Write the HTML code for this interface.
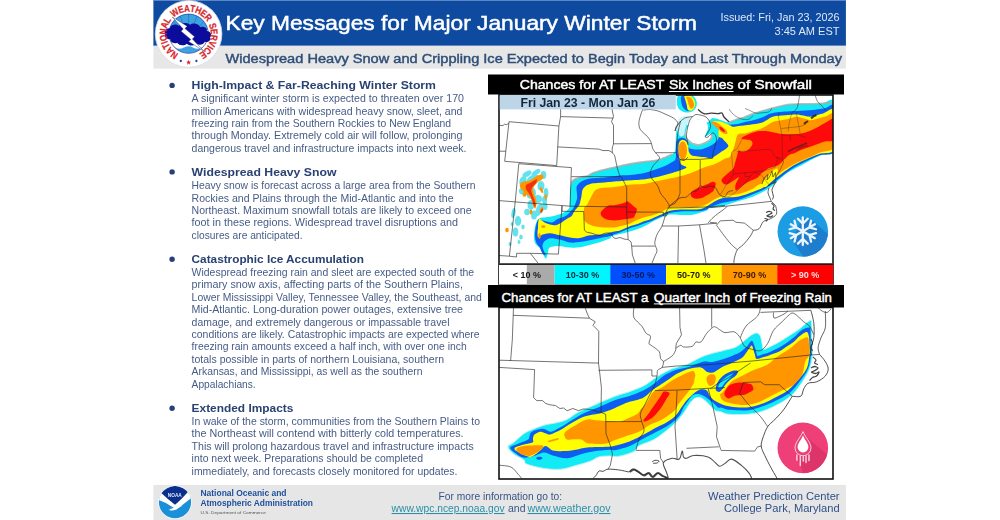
<!DOCTYPE html>
<html><head><meta charset="utf-8"><title>Key Messages</title>
<style>html,body{margin:0;padding:0;background:#fff;width:1000px;height:520px;overflow:hidden}svg{display:block;position:absolute;left:0;top:0;filter:blur(0.45px)}text{font-family:"Liberation Sans",sans-serif}.b{font-weight:bold}</style></head><body>
<svg width="1000" height="520" viewBox="0 0 1000 520">
<rect x="153.4" y="0" width="692.5" height="46" fill="#0d4aa0"/>
<rect x="153.4" y="0" width="692.5" height="1" fill="#5f86c4"/>
<rect x="153.4" y="45.6" width="692.5" height="23" fill="#e7e7e8"/>
<g>
<circle cx="188.6" cy="33.9" r="33.3" fill="#fff" stroke="#d9dde6" stroke-width="0.8"/>
<defs><clipPath id="nw"><circle cx="188.6" cy="33.699999999999996" r="19.6"/></clipPath></defs>
<circle cx="188.6" cy="33.699999999999996" r="19.6" fill="#fff"/>
<g clip-path="url(#nw)">
<rect x="165" y="10" width="48" height="20" fill="#3ea2e2"/>
<line x1="188.6" y1="37.9" x2="171.7" y2="19.8" stroke="#1d5fae" stroke-width="0.5"/>
<line x1="188.6" y1="37.9" x2="179.3" y2="14.0" stroke="#1d5fae" stroke-width="0.5"/>
<line x1="188.6" y1="37.9" x2="188.6" y2="11.9" stroke="#1d5fae" stroke-width="0.5"/>
<line x1="188.6" y1="37.9" x2="197.9" y2="14.0" stroke="#1d5fae" stroke-width="0.5"/>
<line x1="188.6" y1="37.9" x2="205.5" y2="19.8" stroke="#1d5fae" stroke-width="0.5"/>
<path d="M166 47.5 q5 -2.5 9 0 t9 0 t9 0 t9 0 t9 0 V56 H166Z" fill="#3ea2e2"/>
<circle cx="180.8" cy="61.0" r="1.15" fill="#2a3f9c"/>
<circle cx="196.4" cy="61.0" r="1.15" fill="#2a3f9c"/>
<polygon points="188.60,59.80 189.25,61.61 191.17,61.67 189.65,62.84 190.19,64.68 188.60,63.60 187.01,64.68 187.55,62.84 186.03,61.67 187.95,61.61" fill="#d9262c"/>
</g>
<circle cx="188.6" cy="33.699999999999996" r="19.6" fill="none" stroke="#1c3f94" stroke-width="0.7"/>
<path d="M166 33 c-1.5 -3 1 -6.5 4.5 -6 c0.5 -3.5 5.5 -5 8.5 -2.5 c2 -3.5 8 -4 10.5 -1 c3 -2.5 8.5 -1 9.5 2.5 c3 -1.5 7 0.5 6.5 4 c3.5 0.5 5 4 3 6.5 c1 3 -2 5.5 -5 4.5 c-1 3 -5.500 4 -8 2 c-2.500 2.500 -7 2.500 -9 0 c-2.500 2.500 -7.500 2 -9 -1 c-3 1.500 -7 -0.500 -6.500 -3.500 c-3.500 0 -6 -2.500 -5 -5.500Z" fill="#0c0c9c" transform="translate(188.6 34.9) scale(1.06 0.97) translate(-188.2 -33.9)"/>
<path d="M172.3 17 L187.2 26.2 L185 28.4 L194.6 36.8 L192.4 39 L203.8 51 L188.6 41.6 L190.8 39.5 L181 31.2 L183.2 29 Z" fill="#fff" stroke="#1a2a6c" stroke-width="0.45" stroke-linejoin="round"/>
<text x="0" y="0" font-size="9.8" font-weight="bold" fill="#d9262c" stroke="#d9262c" stroke-width="0.25" text-anchor="middle" transform="translate(176.15 52.28) rotate(214.1) scale(0.82 1)">N</text>
<text x="0" y="0" font-size="9.8" font-weight="bold" fill="#d9262c" stroke="#d9262c" stroke-width="0.25" text-anchor="middle" transform="translate(172.00 48.65) rotate(228.4) scale(0.82 1)">A</text>
<text x="0" y="0" font-size="9.8" font-weight="bold" fill="#d9262c" stroke="#d9262c" stroke-width="0.25" text-anchor="middle" transform="translate(169.08 44.48) rotate(241.5) scale(0.82 1)">T</text>
<text x="0" y="0" font-size="9.8" font-weight="bold" fill="#d9262c" stroke="#d9262c" stroke-width="0.25" text-anchor="middle" transform="translate(167.70 41.38) rotate(250.3) scale(0.82 1)">I</text>
<text x="0" y="0" font-size="9.8" font-weight="bold" fill="#d9262c" stroke="#d9262c" stroke-width="0.25" text-anchor="middle" transform="translate(166.69 37.48) rotate(260.7) scale(0.82 1)">O</text>
<text x="0" y="0" font-size="9.8" font-weight="bold" fill="#d9262c" stroke="#d9262c" stroke-width="0.25" text-anchor="middle" transform="translate(166.50 31.76) rotate(275.5) scale(0.82 1)">N</text>
<text x="0" y="0" font-size="9.8" font-weight="bold" fill="#d9262c" stroke="#d9262c" stroke-width="0.25" text-anchor="middle" transform="translate(167.71 26.38) rotate(289.8) scale(0.82 1)">A</text>
<text x="0" y="0" font-size="9.8" font-weight="bold" fill="#d9262c" stroke="#d9262c" stroke-width="0.25" text-anchor="middle" transform="translate(169.97 21.83) rotate(302.9) scale(0.82 1)">L</text>
<text x="0" y="0" font-size="9.8" font-weight="bold" fill="#d9262c" stroke="#d9262c" stroke-width="0.25" text-anchor="middle" transform="translate(176.37 15.37) rotate(326.6) scale(0.82 1)">W</text>
<text x="0" y="0" font-size="9.8" font-weight="bold" fill="#d9262c" stroke="#d9262c" stroke-width="0.25" text-anchor="middle" transform="translate(181.92 12.73) rotate(342.5) scale(0.82 1)">E</text>
<text x="0" y="0" font-size="9.8" font-weight="bold" fill="#d9262c" stroke="#d9262c" stroke-width="0.25" text-anchor="middle" transform="translate(187.13 11.75) rotate(356.2) scale(0.82 1)">A</text>
<text x="0" y="0" font-size="9.8" font-weight="bold" fill="#d9262c" stroke="#d9262c" stroke-width="0.25" text-anchor="middle" transform="translate(192.21 11.99) rotate(369.4) scale(0.82 1)">T</text>
<text x="0" y="0" font-size="9.8" font-weight="bold" fill="#d9262c" stroke="#d9262c" stroke-width="0.25" text-anchor="middle" transform="translate(197.10 13.39) rotate(382.5) scale(0.82 1)">H</text>
<text x="0" y="0" font-size="9.8" font-weight="bold" fill="#d9262c" stroke="#d9262c" stroke-width="0.25" text-anchor="middle" transform="translate(201.72 15.99) rotate(396.2) scale(0.82 1)">E</text>
<text x="0" y="0" font-size="9.8" font-weight="bold" fill="#d9262c" stroke="#d9262c" stroke-width="0.25" text-anchor="middle" transform="translate(205.59 19.61) rotate(409.9) scale(0.82 1)">R</text>
<text x="0" y="0" font-size="9.8" font-weight="bold" fill="#d9262c" stroke="#d9262c" stroke-width="0.25" text-anchor="middle" transform="translate(209.70 27.01) rotate(431.9) scale(0.82 1)">S</text>
<text x="0" y="0" font-size="9.8" font-weight="bold" fill="#d9262c" stroke="#d9262c" stroke-width="0.25" text-anchor="middle" transform="translate(210.72 32.00) rotate(445.1) scale(0.82 1)">E</text>
<text x="0" y="0" font-size="9.8" font-weight="bold" fill="#d9262c" stroke="#d9262c" stroke-width="0.25" text-anchor="middle" transform="translate(210.54 37.30) rotate(458.8) scale(0.82 1)">R</text>
<text x="0" y="0" font-size="9.8" font-weight="bold" fill="#d9262c" stroke="#d9262c" stroke-width="0.25" text-anchor="middle" transform="translate(209.11 42.40) rotate(472.5) scale(0.82 1)">V</text>
<text x="0" y="0" font-size="9.8" font-weight="bold" fill="#d9262c" stroke="#d9262c" stroke-width="0.25" text-anchor="middle" transform="translate(207.46 45.61) rotate(481.8) scale(0.82 1)">I</text>
<text x="0" y="0" font-size="9.8" font-weight="bold" fill="#d9262c" stroke="#d9262c" stroke-width="0.25" text-anchor="middle" transform="translate(205.17 48.67) rotate(491.7) scale(0.82 1)">C</text>
<text x="0" y="0" font-size="9.8" font-weight="bold" fill="#d9262c" stroke="#d9262c" stroke-width="0.25" text-anchor="middle" transform="translate(201.20 52.18) rotate(505.4) scale(0.82 1)">E</text>
<circle cx="180.8" cy="61.0" r="1.15" fill="#2a3f9c"/>
<circle cx="196.4" cy="61.0" r="1.15" fill="#2a3f9c"/>
<polygon points="188.60,59.80 189.25,61.61 191.17,61.67 189.65,62.84 190.19,64.68 188.60,63.60 187.01,64.68 187.55,62.84 186.03,61.67 187.95,61.61" fill="#d9262c"/>
</g>
<text x="225.5" y="29.5" font-size="20.3" fill="#fff" textLength="471.5" lengthAdjust="spacingAndGlyphs" stroke="#fff" stroke-width="0.5">Key Messages for Major January Winter Storm</text>
<text x="839.5" y="21" font-size="10.8" fill="#dfe8f5" text-anchor="end" textLength="119" lengthAdjust="spacingAndGlyphs">Issued: Fri, Jan 23, 2026</text>
<text x="839.5" y="34.5" font-size="10.8" fill="#dfe8f5" text-anchor="end" textLength="65" lengthAdjust="spacingAndGlyphs">3:45 AM EST</text>
<text x="225.5" y="62.6" font-size="13.3" fill="#2f4f78" textLength="616.5" lengthAdjust="spacingAndGlyphs" stroke="#2f4f78" stroke-width="0.45">Widespread Heavy Snow and Crippling Ice Expected to Begin Today and Last Through Monday</text>
<circle cx="172.1" cy="85.4" r="2.7" fill="#27407a"/>
<text x="191.6" y="89.2" font-size="11.6" fill="#2a4272" font-weight="bold" textLength="244.4" lengthAdjust="spacingAndGlyphs">High-Impact &amp; Far-Reaching Winter Storm</text>
<text x="191.6" y="102.1" font-size="10.2" fill="#465c86" textLength="272.4" lengthAdjust="spacingAndGlyphs">A significant winter storm is expected to threaten over 170</text>
<text x="191.6" y="114.6" font-size="10.2" fill="#465c86" textLength="270.9" lengthAdjust="spacingAndGlyphs">million Americans with widespread heavy snow, sleet, and</text>
<text x="191.6" y="126.8" font-size="10.2" fill="#465c86" textLength="259.4" lengthAdjust="spacingAndGlyphs">freezing rain from the Southern Rockies to New England</text>
<text x="191.6" y="139.2" font-size="10.2" fill="#465c86" textLength="270.9" lengthAdjust="spacingAndGlyphs">through Monday. Extremely cold air will follow, prolonging</text>
<text x="191.6" y="151.6" font-size="10.2" fill="#465c86" textLength="274.9" lengthAdjust="spacingAndGlyphs">dangerous travel and infrastructure impacts into next week.</text>
<circle cx="172.1" cy="171.9" r="2.7" fill="#27407a"/>
<text x="191.6" y="175.7" font-size="11.6" fill="#2a4272" font-weight="bold" textLength="144.9" lengthAdjust="spacingAndGlyphs">Widespread Heavy Snow</text>
<text x="191.6" y="189.1" font-size="10.2" fill="#465c86" textLength="283.9" lengthAdjust="spacingAndGlyphs">Heavy snow is forecast across a large area from the Southern</text>
<text x="191.6" y="201.6" font-size="10.2" fill="#465c86" textLength="261.9" lengthAdjust="spacingAndGlyphs">Rockies and Plains through the Mid-Atlantic and into the</text>
<text x="191.6" y="213.79999999999998" font-size="10.2" fill="#465c86" textLength="279.9" lengthAdjust="spacingAndGlyphs">Northeast. Maximum snowfall totals are likely to exceed one</text>
<text x="191.6" y="226.2" font-size="10.2" fill="#465c86" textLength="266.4" lengthAdjust="spacingAndGlyphs">foot in these regions. Widespread travel disruptions and</text>
<text x="191.6" y="238.6" font-size="10.2" fill="#465c86" textLength="110.9" lengthAdjust="spacingAndGlyphs">closures are anticipated.</text>
<circle cx="172.1" cy="259.2" r="2.7" fill="#27407a"/>
<text x="191.6" y="263.0" font-size="11.6" fill="#2a4272" font-weight="bold" textLength="172.4" lengthAdjust="spacingAndGlyphs">Catastrophic Ice Accumulation</text>
<text x="191.6" y="275.90000000000003" font-size="10.2" fill="#465c86" textLength="282.6" lengthAdjust="spacingAndGlyphs">Widespread freezing rain and sleet are expected south of the</text>
<text x="191.6" y="288.3" font-size="10.2" fill="#465c86" textLength="271.4" lengthAdjust="spacingAndGlyphs">primary snow axis, affecting parts of the Southern Plains,</text>
<text x="191.6" y="300.6" font-size="10.2" fill="#465c86" textLength="290.2" lengthAdjust="spacingAndGlyphs">Lower Mississippi Valley, Tennessee Valley, the Southeast, and</text>
<text x="191.6" y="313.20000000000005" font-size="10.2" fill="#465c86" textLength="271.4" lengthAdjust="spacingAndGlyphs">Mid-Atlantic. Long-duration power outages, extensive tree</text>
<text x="191.6" y="325.6" font-size="10.2" fill="#465c86" textLength="257.9" lengthAdjust="spacingAndGlyphs">damage, and extremely dangerous or impassable travel</text>
<text x="191.6" y="338.0" font-size="10.2" fill="#465c86" textLength="288.0" lengthAdjust="spacingAndGlyphs">conditions are likely. Catastrophic impacts are expected where</text>
<text x="191.6" y="350.40000000000003" font-size="10.2" fill="#465c86" textLength="275.1" lengthAdjust="spacingAndGlyphs">freezing rain amounts exceed a half inch, with over one inch</text>
<text x="191.6" y="362.8" font-size="10.2" fill="#465c86" textLength="252.4" lengthAdjust="spacingAndGlyphs">totals possible in parts of northern Louisiana, southern</text>
<text x="191.6" y="375.20000000000005" font-size="10.2" fill="#465c86" textLength="230.9" lengthAdjust="spacingAndGlyphs">Arkansas, and Mississippi, as well as the southern</text>
<text x="191.6" y="387.6" font-size="10.2" fill="#465c86" textLength="64.1" lengthAdjust="spacingAndGlyphs">Appalachians.</text>
<circle cx="172.1" cy="408.29999999999995" r="2.7" fill="#27407a"/>
<text x="191.6" y="412.09999999999997" font-size="11.6" fill="#2a4272" font-weight="bold" textLength="101.8" lengthAdjust="spacingAndGlyphs">Extended Impacts</text>
<text x="191.6" y="425.0" font-size="10.2" fill="#465c86" textLength="288.4" lengthAdjust="spacingAndGlyphs">In wake of the storm, communities from the Southern Plains to</text>
<text x="191.6" y="437.40000000000003" font-size="10.2" fill="#465c86" textLength="271.9" lengthAdjust="spacingAndGlyphs">the Northeast will contend with bitterly cold temperatures.</text>
<text x="191.6" y="449.70000000000005" font-size="10.2" fill="#465c86" textLength="282.1" lengthAdjust="spacingAndGlyphs">This will prolong hazardous travel and infrastructure impacts</text>
<text x="191.6" y="462.20000000000005" font-size="10.2" fill="#465c86" textLength="231.4" lengthAdjust="spacingAndGlyphs">into next week. Preparations should be completed</text>
<text x="191.6" y="474.6" font-size="10.2" fill="#465c86" textLength="265.9" lengthAdjust="spacingAndGlyphs">immediately, and forecasts closely monitored for updates.</text>
<rect x="153.4" y="484.9" width="692.5" height="35.1" fill="#e6e6e7"/>
<g>
<defs><clipPath id="no"><circle cx="175" cy="502.2" r="16.099999999999998"/></clipPath></defs>
<circle cx="175" cy="502.2" r="16.7" fill="#fff"/>
<g clip-path="url(#no)">
<rect x="157" y="484" width="36" height="36" fill="#1a90d8"/>
<path d="M156 484 H194 V492.5 L176 508 L156 495 Z" fill="#fff"/>
<path d="M161 492.8 Q166 487.5 175 485.800 Q184 487.500 188.500 491.300 Q181 500 175 504.800 Q168 499.500 161 492.800Z" fill="#0b2f8c"/>
<path d="M157.500 495.500 Q166 499 174.500 506.500 Q183 500 192 492.500 L192.500 497 Q184 503.500 176.500 509.500 Q172 511 168.500 510 Q172 509 174 508 Q166 502 157.500 499.500Z" fill="#fff"/>
<path d="M169.500 509.300 Q176 507 183 505.500 Q177 509 171 510.300Z" fill="#fff"/>
</g>
<text x="174.800" y="497" font-size="5.200" font-weight="bold" fill="#dfe8f8" text-anchor="middle" textLength="14" lengthAdjust="spacingAndGlyphs">NOAA</text>
</g>
<text x="200.5" y="496.3" font-size="8.6" fill="#1d4f9c" font-weight="bold" textLength="86" lengthAdjust="spacingAndGlyphs">National Oceanic and</text>
<text x="200.5" y="505.7" font-size="8.6" fill="#1d4f9c" font-weight="bold" textLength="112.5" lengthAdjust="spacingAndGlyphs">Atmospheric Administration</text>
<text x="200.5" y="514.2" font-size="4.4" fill="#555" textLength="65.5" lengthAdjust="spacingAndGlyphs">U.S. Department of Commerce</text>
<text x="438.6" y="499.8" font-size="10.6" fill="#3a5684" textLength="123.5" lengthAdjust="spacingAndGlyphs">For more information go to:</text>
<text x="391.6" y="512" font-size="10.6" fill="#2a8fa6" textLength="113" lengthAdjust="spacingAndGlyphs" text-decoration="underline">www.wpc.ncep.noaa.gov</text>
<text x="508" y="512" font-size="10.6" fill="#3a5684" textLength="17.5" lengthAdjust="spacingAndGlyphs">and</text>
<text x="527.5" y="512" font-size="10.6" fill="#2a8fa6" textLength="83" lengthAdjust="spacingAndGlyphs" text-decoration="underline">www.weather.gov</text>
<text x="839.6" y="499.8" font-size="11" fill="#2f4f86" text-anchor="end" textLength="131.5" lengthAdjust="spacingAndGlyphs">Weather Prediction Center</text>
<text x="839.6" y="512.3" font-size="11" fill="#2f4f86" text-anchor="end" textLength="115.5" lengthAdjust="spacingAndGlyphs">College Park, Maryland</text>
<defs><clipPath id="c1"><rect x="499" y="95" width="334" height="169"/></clipPath><clipPath id="c2"><rect x="499" y="307.5" width="334" height="171.5"/></clipPath></defs>
<rect x="499" y="95" width="334.5" height="169" fill="#fff"/>
<g clip-path="url(#c1)">
<path d="M534.5 230 C534.9 227.4 535.5 224.4 536.3 222.5 C537.1 220.6 537.9 219.2 539.5 218.3 C541.1 217.4 543.8 217.6 546 217.3 C548.2 217 550.7 216.7 552.7 216.3 C554.7 215.9 556.3 215.4 558 214.8 C559.7 214.2 561.3 213.7 562.8 213 C564.3 212.3 565.9 211.5 567 210.5 C568.1 209.5 569 208.9 569.5 207.2 C570 205.4 569.9 202.3 570 200 C570.1 197.7 569.9 195.5 570 193.3 C570.1 191.1 570.3 188.7 570.5 187 C570.7 185.3 571 184.3 571.4 183.2 C571.8 182.1 572.3 181.2 573 180.5 C573.7 179.8 574.4 179.3 575.7 178.8 C577 178.3 579.1 177.8 581 177.3 C582.9 176.8 585.6 176.6 587.3 176 C589 175.4 589.8 174.6 591 174 C592.2 173.4 593 172.9 594.5 172.3 C596 171.8 598.3 171.2 600 170.7 C601.7 170.2 602.2 170.1 604.6 169.5 C607 168.9 611 168.1 614.4 167.3 C617.8 166.6 621.4 165.7 625 165 C628.6 164.3 632.3 163.6 636 163 C639.7 162.4 643.4 162 647 161.5 C650.6 161 654.7 160.8 657.7 160.1 C660.7 159.4 662.6 158.5 665 157.5 C667.4 156.5 670.4 155.4 672.1 154.3 C673.8 153.2 674.4 152.4 675 151 C675.6 149.6 675.4 147.8 675.5 146 C675.6 144.2 675.7 142 675.8 140 C675.9 138 675.8 136 676 134 C676.2 132 676.6 130 677 128 C677.4 126 677.8 123.7 678.5 122 C679.2 120.3 679.1 118.8 681 118 C682.9 117.2 686.8 117.2 690 117 C693.2 116.8 697 116.4 700 116.5 C703 116.6 705.3 117.2 708 117.5 C710.7 117.8 713.7 118 716 118.5 C718.3 119 719.9 119.8 722 120.5 C724.1 121.2 726.5 122.5 728.7 122.4 C730.9 122.3 732.3 120.9 735 120 C737.7 119.1 742 118 745 117 C748 116 750.5 114.7 753.3 113.7 C756.1 112.7 759.1 111.8 762 111 C764.9 110.2 767.6 109.5 770.6 108.7 C773.6 107.9 776.9 107 780 106.3 C783.1 105.6 786 104.8 789.3 104.4 C792.6 104 796.4 104.1 800 104 C803.6 103.9 807.2 104 810.9 103.9 C814.6 103.8 817.8 103.6 822 103.4 C826.2 103.2 833.7 94.9 836 102.8 C838.3 110.7 836.7 143 836 151 C835.3 159 833.6 150.6 831.8 151 C830 151.4 828.3 152.2 825.3 153.5 C822.3 154.8 818 156.4 813.8 158.5 C809.6 160.6 804.3 163.7 800 166 C795.7 168.3 791.9 169.9 787.9 172.6 C783.9 175.3 779.7 179.4 776.3 182.2 C772.9 185 771.5 186.9 767.7 189.3 C763.9 191.7 758.1 194.6 753.3 196.5 C748.5 198.4 743.6 199.5 738.8 201 C734 202.5 729.2 204.3 724.4 205.5 C719.6 206.7 713 207.2 710 208 C707 208.8 709.4 209.3 706.7 210.4 C704 211.5 697.6 213.6 693.7 214.4 C689.9 215.2 687.7 215.1 683.6 215.1 C679.5 215.1 673.5 214 669.2 214.6 C664.9 215.2 662.5 216.7 657.7 218.9 C652.9 221.2 645.2 226 640.4 228.1 C635.6 230.2 632.2 230.7 628.8 231.7 C625.4 232.7 622.9 233.1 620 233.9 C617.1 234.7 613.1 235.6 611.5 236.3 C609.9 237 612.9 237 610.3 238.2 C607.7 239.4 600.7 241.9 595.9 243.3 C591.1 244.8 585.8 246.2 581.5 246.9 C577.2 247.6 573.9 247.7 570 247.6 C566.1 247.5 561.8 246.1 558.4 246.1 C555 246.1 551.5 246.6 549.8 247.6 C548.1 248.6 548.6 250.2 548 252 C547.4 253.8 546.8 257.6 546.2 258.4 C545.6 259.2 545.1 257.9 544.5 257 C543.9 256.1 543.3 254.6 542.6 253.3 C541.9 252 541 249.9 540.5 249 C540 248.1 540.5 248.4 539.7 247.6 C538.9 246.8 536.5 245.6 535.5 244 C534.5 242.4 534.2 240.3 534 238 C533.8 235.7 534.1 232.6 534.5 230Z" fill="#12eaf5"/>
<path d="M571.4 183.2 C571.7 182.8 572.3 181.2 573 180.5 C573.7 179.8 574.4 179.3 575.7 178.8 C577 178.3 579.1 177.8 581 177.3 C582.9 176.8 585.6 176.6 587.3 176 C589 175.4 589.8 174.6 591 174 C592.2 173.4 593 172.9 594.5 172.3 C596 171.8 598.3 171.2 600 170.7 C601.7 170.2 602.2 170.1 604.6 169.5 C607 168.9 611 168.1 614.4 167.3 C617.8 166.6 621.4 165.7 625 165 C628.6 164.3 632.3 163.6 636 163 C639.7 162.4 643.4 162 647 161.5 C650.6 161 654.7 160.8 657.7 160.1 C660.7 159.4 662.6 158.5 665 157.5 C667.4 156.5 670.9 154.8 672.1 154.3" fill="none" stroke="#aaaaaa" stroke-width="1.8" stroke-linejoin="round" stroke-opacity="0.8"/>
<path d="M728.7 122.4 C729.8 122 732.3 120.9 735 120 C737.7 119.1 742 118 745 117 C748 116 750.5 114.7 753.3 113.7 C756.1 112.7 759.1 111.8 762 111 C764.9 110.2 767.6 109.5 770.6 108.7 C773.6 107.9 776.9 107 780 106.3 C783.1 105.6 786 104.8 789.3 104.4 C792.6 104 796.4 104.1 800 104 C803.6 103.9 807.2 104 810.9 103.9 C814.6 103.8 817.8 103.6 822 103.4 C826.2 103.2 833.7 102.9 836 102.8" fill="none" stroke="#aaaaaa" stroke-width="1.8" stroke-linejoin="round" stroke-opacity="0.8"/>
<path d="M535.3 230 C535.6 227.8 536 225.3 536.6 223.5 C537.2 221.7 537.9 219.8 539 219.3 C540.1 218.8 541.5 220.1 543 220.5 C544.5 220.9 546.4 221.5 548 221.8 C549.6 222.1 551.2 222.7 552.7 222.3 C554.2 221.9 555.5 220 557 219.2 C558.5 218.4 560.3 218.2 562 217.5 C563.7 216.8 565.6 216 567.1 214.9 C568.6 213.8 569.9 212.2 571 211 C572.1 209.8 572.8 209.2 573.6 207.7 C574.4 206.2 575.4 203.7 576 202 C576.6 200.3 577.1 199.3 577.2 197.6 C577.3 195.9 576.9 193.7 576.8 192 C576.7 190.3 576.3 188.8 576.5 187.5 C576.7 186.2 577.4 185.3 578 184.5 C578.6 183.7 579 183.1 580 182.4 C581 181.7 582.5 180.9 584 180.3 C585.5 179.7 586.7 179.2 588.7 178.8 C590.7 178.4 593.4 178.2 596 178 C598.6 177.8 601.9 177.7 604.6 177.4 C607.3 177.2 609.4 176.8 612 176.5 C614.6 176.2 617 175.8 620 175.5 C623 175.2 626.6 175.3 630 175 C633.4 174.7 637.6 174.3 640.4 173.8 C643.2 173.3 644.9 172.8 647 172.2 C649.1 171.6 651.3 170.8 653.3 170.2 C655.3 169.5 657.1 169 659 168.3 C660.9 167.6 663.1 166.7 664.9 165.9 C666.7 165.1 668.3 164.3 670 163.3 C671.7 162.3 674 161.5 675 160.1 C676 158.7 675.8 157 676 155 C676.2 153 676.1 150.2 676.2 148 C676.3 145.8 676.1 143.5 676.5 142 C676.9 140.5 677.5 139.5 678.5 138.8 C679.5 138.1 681.2 137.7 682.5 137.8 C683.8 137.9 685.1 138.6 686 139.5 C686.9 140.4 687.6 142.2 688 143.5 C688.4 144.8 687.8 146.6 688.5 147.5 C689.2 148.4 690.1 148.6 692 148.9 C693.9 149.2 697.3 149.8 700 149.5 C702.7 149.2 705.3 148.2 708 147 C710.7 145.8 714.2 143.7 716 142 C717.8 140.3 718.4 138.8 718.9 136.8 C719.4 134.8 718.5 131.9 719 130 C719.5 128.1 719.7 126.4 722 125.5 C724.3 124.6 730.2 124.8 733 124.5 C735.8 124.2 736.6 124.2 738.8 123.8 C741 123.3 743.6 122.4 746 121.8 C748.4 121.2 750.6 120.9 753.3 120.2 C756 119.5 759.1 118.6 762 117.5 C764.9 116.4 767.6 114.4 770.6 113.5 C773.6 112.6 776.9 112.4 780 112 C783.1 111.6 786.5 111.4 789.3 111.2 C792 111 793.9 111 796.5 110.9 C799.1 110.8 801.9 110.7 805 110.5 C808.1 110.3 811.7 110.2 815 109.8 C818.3 109.4 821.5 108.8 825 108.3 C828.5 107.8 834.2 100.2 836 107 C837.8 113.8 838.8 141.2 836 149.3 C833.2 157.4 824.2 153.4 819 155.5 C813.8 157.6 809 159.8 804.5 162 C800 164.2 796 166.2 791.8 169 C787.5 171.8 783.3 175.3 779 178.5 C774.7 181.7 770.2 185.7 766 188.2 C761.8 190.7 758.5 191.8 754 193.7 C749.5 195.6 744.1 198 739.3 199.4 C734.5 200.8 728.9 201.4 725.4 202.2 C721.9 202.9 720.9 203.1 718.5 203.9 C716.1 204.7 712.7 205.9 710.8 206.8 C708.9 207.7 708.9 208.5 707.3 209.2 C705.7 209.9 703.4 210.7 701 211 C698.6 211.3 696.4 211.2 693 211.3 C689.6 211.4 684.6 211.2 680.7 211.5 C676.8 211.8 672.5 212.2 669.5 213 C666.5 213.8 664.8 215.2 663 216 C661.2 216.8 660.5 216.9 658.5 217.7 C656.5 218.5 653.7 220 651.3 221 C648.9 222 646 222.8 644 223.5 C642 224.2 642 224.5 639.5 225.3 C637 226.1 632.5 227.3 629.3 228.5 C626 229.7 622.4 231.5 620 232.4 C617.6 233.3 616.3 233.4 614.7 234 C613.1 234.6 613.4 235.2 610.3 236 C607.2 236.8 600.7 237.9 595.9 238.9 C591.1 239.9 585.8 241.2 581.5 241.8 C577.2 242.4 573.6 242.9 570 242.5 C566.4 242.1 563 240.3 559.9 239.6 C556.8 238.9 553.4 238.2 551.2 238.2 C549.1 238.2 548.2 238.9 547 239.5 C545.8 240.1 544.8 240.7 544 241.8 C543.2 242.9 542.6 244.6 542.5 246 C542.4 247.4 543 248.5 543.5 250 C544 251.5 545.6 254.3 545.5 255 C545.4 255.7 543.8 254.8 543 254 C542.2 253.2 541.5 251.6 541 250.5 C540.5 249.4 540.5 248.8 539.7 247.6 C539 246.3 537.3 244.8 536.5 243 C535.7 241.2 535.2 239.2 535 237 C534.8 234.8 535 232.2 535.3 230Z" fill="#0f5cf0"/>
<path d="M538 228 C538.1 226.3 538 223.2 538.3 221.6 C538.6 220 539 218.8 539.7 218.7 C540.4 218.6 541.5 220.3 542.5 221 C543.5 221.7 544.2 222.5 545.5 223.1 C546.8 223.7 548.3 224.2 550 224.5 C551.7 224.8 554 225.4 555.6 225.2 C557.2 225 558.5 224.2 559.9 223.5 C561.3 222.8 562.8 221.6 564 220.8 C565.2 220 565.9 219.4 567.1 218.7 C568.3 217.9 570.2 217.5 571.4 216.3 C572.6 215.1 573.4 212.7 574.3 211.3 C575.2 209.9 576.2 209.1 577 208 C577.8 206.9 578.7 206.1 579.3 204.8 C579.9 203.5 580.2 201.4 580.6 200 C581 198.6 581.3 197.4 581.5 196.1 C581.7 194.8 581.8 193.2 582 192 C582.2 190.8 582.3 189.9 583 188.9 C583.7 187.9 584.8 186.6 586 185.8 C587.2 185 588.4 184.4 590.2 183.9 C592 183.4 594.6 183.2 597 183 C599.4 182.8 602.1 182.6 604.6 182.4 C607.1 182.2 609.2 181.9 612 181.7 C614.8 181.5 618.3 181.2 621.6 181 C624.9 180.8 628.6 180.5 632 180.3 C635.4 180.1 639.1 179.9 641.8 179.6 C644.5 179.3 645.8 179.1 648 178.7 C650.2 178.3 652.5 177.9 654.8 177.4 C657.1 176.9 659.6 176.3 662 175.7 C664.4 175.1 667 174.4 669.2 173.8 C671.4 173.2 673.1 172.6 675 172 C676.9 171.4 678.8 171 680.7 170.2 C682.6 169.4 686.5 168.4 686.5 167.3 C686.5 166.2 682 165.8 680.7 163.7 C679.5 161.6 679.4 157.8 679 155 C678.6 152.2 678.4 149.2 678.5 147 C678.6 144.8 678.8 143.2 679.5 142 C680.2 140.8 681.4 139.9 682.5 139.8 C683.6 139.7 685.1 140.6 686 141.5 C686.9 142.4 687.6 143.8 688 145 C688.4 146.2 688.3 147.8 688.5 149 C688.7 150.2 688.4 150.9 689 152 C689.6 153.1 690.5 154.8 692 155.6 C693.5 156.3 695.8 156.2 698 156.5 C700.2 156.8 703.3 157 705.4 157.3 C707.5 157.6 709 158.6 710.8 158.3 C712.6 158 714.2 156.6 716 155.5 C717.8 154.4 720.1 152.6 721.6 151.6 C723.1 150.6 723.9 150.4 725 149.5 C726.1 148.6 728 147.2 728.3 146.2 C728.6 145.2 727.7 144.4 727 143.5 C726.3 142.6 725.1 141.7 724.3 140.8 C723.5 139.9 722.9 138.7 722 138 C721.1 137.3 719.5 138 718.9 136.8 C718.3 135.6 718.5 132.8 718.5 131 C718.5 129.2 719.3 127.4 718.9 126 C718.5 124.6 717.1 123.3 716 122.5 C714.9 121.7 711.3 121.2 712 121 C712.7 120.8 717.3 120.9 720 121.5 C722.7 122.1 726.1 123.7 728.3 124.6 C730.5 125.5 731.2 126.6 733 126.8 C734.8 127 736 126.3 738.8 126 C741.6 125.7 746.4 125.3 750 124.8 C753.6 124.3 757.7 123.9 760.5 123.1 C763.3 122.3 764.9 121.1 767 120 C769.1 118.9 770.4 117.4 773.4 116.6 C776.4 115.8 781.1 115.6 785 115.3 C788.9 115 793.5 114.5 796.5 114.5 C799.5 114.5 800.6 115.2 803 115.5 C805.4 115.8 807.7 116.9 810.9 116.6 C814.1 116.3 817.8 114.8 822 113.8 C826.2 112.8 833.7 105 836 110.7 C838.3 116.4 838.8 140.6 836 147.8 C833.2 155 824.3 151.9 819 154 C813.7 156.1 808.7 158.1 804 160.3 C799.3 162.5 795.3 164.3 791 167 C786.7 169.7 782.3 173.2 778 176.5 C773.7 179.8 769.1 183.9 765 186.5 C760.9 189.1 757.7 190.1 753.3 191.8 C748.9 193.5 743.2 195.6 738.8 196.5 C734.4 197.4 730.4 197 727 197.5 C723.6 198 721.2 198.4 718.5 199.5 C715.8 200.6 713 202.6 711 203.8 C709 205 708.4 205.6 706.7 206.5 C705 207.4 703.2 208.6 700.9 209.1 C698.6 209.6 696.4 209.3 693 209.4 C689.6 209.5 684.7 209.3 680.7 209.6 C676.7 209.9 672.3 210.2 669.2 211 C666.1 211.8 663.9 213.4 662 214.2 C660.1 215 659.6 215.1 657.7 215.9 C655.8 216.7 652.9 218.2 650.5 219.2 C648.1 220.1 645.2 220.9 643.3 221.6 C641.4 222.3 641.3 222.7 638.9 223.5 C636.5 224.3 631.9 225.5 628.8 226.7 C625.6 227.9 622.4 229.7 620 230.5 C617.6 231.3 617 230.9 614.4 231.5 C611.8 232.1 607 233.5 604.6 234 C602.2 234.5 601.6 234.3 600 234.5 C598.4 234.7 596.9 234.8 595 235 C593.1 235.2 591.4 235 588.7 235.5 C586 236 581.7 237.9 578.6 238.2 C575.5 238.5 573.1 238 570 237.5 C566.9 237 563.3 236 559.9 235.3 C556.5 234.6 552.7 233.3 549.8 233.2 C546.9 233.1 544.5 233.9 542.6 234.6 C540.7 235.3 539.1 237.9 538.3 237.5 C537.4 237.1 537.5 233.6 537.5 232 C537.5 230.4 537.9 229.7 538 228Z" fill="#ffff00"/>
<path d="M584 209 C584.1 207.7 584.1 207.8 584.6 207 C585.1 206.2 586.5 205.7 587.3 204.5 C588.1 203.3 588.8 201.4 589.5 200 C590.2 198.6 590.9 197.3 591.6 196.1 C592.3 194.8 592.8 193.6 593.5 192.5 C594.2 191.4 594.8 190.5 595.9 189.8 C597 189.1 598.3 188.7 600 188.3 C601.7 187.9 603.8 187.8 606 187.6 C608.2 187.4 610.7 187.4 613 187.2 C615.3 187 617.5 186.7 620 186.3 C622.5 185.9 625.3 185.2 628 184.8 C630.7 184.5 633.5 184.3 636 184.2 C638.5 184 641 184.2 643.3 183.9 C645.6 183.7 647.6 183.2 650 182.7 C652.4 182.2 655.2 181.5 657.7 181 C660.2 180.5 662.6 180.1 665 179.6 C667.4 179.1 669.6 178.6 672.1 178.1 C674.6 177.6 677.6 176.9 680 176.3 C682.4 175.7 684.2 175.2 686.5 174.5 C688.8 173.8 691.6 172.8 694 171.8 C696.4 170.8 698.7 169.6 700.9 168.7 C703.1 167.8 704.8 167.2 707 166.5 C709.2 165.8 711.7 165.2 713.9 164.4 C716.1 163.6 718.1 162.4 720 161.5 C721.9 160.6 723.4 159.4 725 158.7 C726.6 157.9 728.3 158.4 729.6 157 C730.9 155.6 732 152.5 733 150 C734 147.5 734.8 144.3 735.5 142 C736.2 139.7 736.2 137.4 737 136 C737.8 134.6 738.7 133.9 740 133.5 C741.3 133.1 742.8 133.9 745 133.5 C747.2 133.1 750.4 131.8 753 131 C755.6 130.2 758.2 129.8 760.5 128.9 C762.8 128 764.9 126.7 767 125.5 C769.1 124.3 771.2 122.5 773.4 121.7 C775.6 120.9 777.6 121 780 120.5 C782.4 120 785.2 119.6 788 119 C790.8 118.4 793.8 116.9 796.5 116.8 C799.2 116.7 801.6 117.9 804 118.5 C806.4 119.1 808.6 120.2 810.9 120.2 C813.2 120.2 815.6 119.1 818 118.5 C820.4 117.9 822.3 117.3 825.3 116.6 C828.3 115.9 834.2 109.5 836 114.3 C837.8 119.1 838.7 139.1 836 145.5 C833.3 151.9 824.3 150.6 820 152.5 C815.7 154.4 813.2 155.6 810 157 C806.8 158.4 804 159.5 800.8 161 C797.6 162.5 794.3 163.9 790.7 166 C787.1 168.1 782.7 171 779.2 173.5 C775.8 176 773.4 179.2 770 181 C766.6 182.8 761.8 183.2 759 184.5 C756.2 185.8 755.6 187.2 753.3 188.5 C751 189.8 747.9 191 745 192 C742.1 193 739.3 193.9 736 194.5 C732.7 195.1 728.3 194.8 725 195.5 C721.7 196.2 719 197.1 716 198.5 C713 199.9 709.5 202.7 707 204 C704.5 205.3 703.1 205.7 700.9 206.2 C698.7 206.7 697.1 207.1 693.7 207.2 C690.3 207.3 684.8 206.9 680.7 207 C676.6 207.1 672.6 207 669.2 207.9 C665.9 208.8 663.5 211 660.6 212.3 C657.7 213.6 654.9 214.6 652 215.5 C649.1 216.4 646 216.7 643.3 217.5 C640.6 218.3 638.4 219.4 636 220.5 C633.6 221.6 631.5 223 628.8 224 C626.1 225 622.4 225.7 620 226.3 C617.6 226.9 617 227.2 614.4 227.4 C611.8 227.6 608.2 227.6 604.6 227.4 C601 227.2 596.2 227 593 226 C589.8 225 586.6 223.4 585.1 221.6 C583.6 219.8 584.2 217.1 584 215 C583.8 212.9 583.9 210.3 584 209Z" fill="#ff9600"/>
<ellipse cx="682.7" cy="150.5" rx="4.3" ry="9.3" fill="#ff9600"/>
<path d="M711.5 121.5 C712.1 121.2 714.4 121.6 716 122.3 C717.6 123 719.2 124.1 721 125.5 C722.8 126.9 725.5 129.1 726.5 130.5 C727.5 131.9 727.8 133.7 727 134 C726.2 134.3 723.8 133.6 722 132.5 C720.2 131.4 718.1 128.9 716.5 127.5 C714.9 126.1 713.3 125 712.5 124 C711.7 123 710.9 121.8 711.5 121.5Z" fill="#ff9600"/>
<path d="M719.3 127 C719.5 126.6 721.1 127.2 722 127.8 C722.9 128.4 724.4 130.1 724.8 130.8 C725.2 131.5 724.8 132.1 724.2 132 C723.6 131.9 721.8 131.1 721 130.3 C720.2 129.5 719.1 127.4 719.3 127Z" fill="#ff0a0a"/>
<path d="M600.7 213 C600.9 211.8 601.7 210.7 603 209.5 C604.3 208.3 606.9 206.3 608.7 205.6 C610.5 204.9 612.1 205.6 614 205.3 C615.9 205 618.2 204.5 620 204 C621.8 203.5 623.8 203 625 202.5 C626.2 202 626.6 201.1 627.4 201.2 C628.2 201.3 628.9 202.1 630 203 C631.1 203.9 632.9 205.5 634 206.5 C635.1 207.5 636.5 208 636.8 209.1 C637.1 210.2 636.4 211.9 636 213 C635.6 214.1 635.1 215.1 634.6 215.9 C634.1 216.7 634.8 217.2 633.2 217.8 C631.6 218.4 628.1 218.9 625 219.3 C621.9 219.7 617.6 220.4 614.4 220.4 C611.2 220.4 608.1 219.8 606 219.2 C603.9 218.5 602.9 217.5 602 216.5 C601.1 215.5 600.5 214.2 600.7 213Z" fill="#ff0a0a"/>
<path d="M690.8 193.3 C691.4 192.1 693.3 190.6 695 189.5 C696.7 188.4 698.9 187.7 700.9 186.8 C702.9 185.9 705.1 185.2 707 184.3 C708.9 183.5 711.1 181.9 712.5 181.7 C713.9 181.5 715 182.2 715.5 183 C716 183.8 715.5 185.4 715.3 186.5 C715 187.6 714.5 188.6 714 189.5 C713.5 190.4 713.7 190.8 712.5 191.8 C711.3 192.8 708.9 194.2 707 195.3 C705.1 196.4 702.9 197.8 700.9 198.3 C698.9 198.8 696.6 198.8 695 198.5 C693.4 198.2 692.2 197.4 691.5 196.5 C690.8 195.6 690.2 194.5 690.8 193.3Z" fill="#ff0a0a"/>
<path d="M721.5 180.3 C721.7 178.5 725.1 175.9 727 174 C728.9 172.1 731.8 170.5 733.1 168.7 C734.4 166.9 734.4 165.1 735 163 C735.6 160.9 736.2 158.7 737 156 C737.8 153.3 738.7 149.9 739.5 147 C740.3 144.1 740.3 140.4 741.7 138.3 C743.1 136.2 745.8 135.6 748 134.5 C750.2 133.4 752.9 132.6 755 132 C757.1 131.4 758.3 131.1 760.5 131 C762.7 130.9 765.6 131 768 131.3 C770.4 131.6 772.6 132.4 775 132.8 C777.4 133.2 779.3 133.7 782.1 133.9 C784.9 134.1 788.6 134.3 792 134.2 C795.4 134.1 799.1 133.8 802.3 133.2 C805.4 132.6 808.3 131.5 810.9 130.5 C813.5 129.5 815.6 128.2 818 127 C820.4 125.8 822 124.4 825 123 C828 121.6 834.2 115.8 836 118.5 C837.8 121.2 837.8 135.2 836 139 C834.2 142.8 828.5 140.5 825 141.5 C821.5 142.5 817.8 144 815 145 C812.2 146 810.4 146.7 808 147.5 C805.6 148.3 803 149.1 800.8 150 C798.6 150.9 796.8 152.2 795 153 C793.2 153.8 791.7 153.6 790 154.5 C788.3 155.4 786.8 157 785 158.7 C783.2 160.3 781.2 163 779.2 164.4 C777.2 165.8 774.9 166.3 773 167 C771.1 167.7 769.5 167.7 767.7 168.7 C765.9 169.7 763.7 171.6 762 173 C760.3 174.4 759.4 176.2 757.6 177.4 C755.8 178.7 752.9 179.5 751 180.5 C749.1 181.5 747.7 182.1 746 183.2 C744.3 184.3 742.7 185.8 741 187 C739.3 188.2 736.9 190.7 736 190.4 C735.1 190.1 735 187.2 735.5 185 C736 182.8 739.2 178.1 738.8 177.4 C738.4 176.7 735.1 179.8 733 181 C730.9 182.2 727.8 184.7 725.9 184.6 C724 184.5 721.3 182.1 721.5 180.3Z" fill="#ff0a0a"/>
<path d="M737 141 C737.6 139.6 739.5 139.6 741 139.3 C742.5 139.1 744.3 139.3 746 139.5 C747.7 139.7 749.9 139.8 751 140.5 C752.1 141.2 752.7 142.8 752.5 144 C752.3 145.2 751.1 146.8 750 148 C748.9 149.2 747.5 150.4 746 151 C744.5 151.6 742.4 152 741 151.5 C739.6 151 738.2 149.8 737.5 148 C736.8 146.2 736.4 142.4 737 141Z" fill="#ff9600"/>
<path d="M761.5 185 C761.4 183.8 763.7 181.3 765 179.5 C766.3 177.7 767.9 175.7 769.5 174 C771.1 172.3 773.2 170.4 774.5 169.5 C775.8 168.6 777 168.2 777.5 168.7 C778 169.2 778 170.9 777.5 172.5 C777 174.1 775.8 176.2 774.5 178 C773.2 179.8 771.5 181.5 770 183 C768.5 184.5 766.9 186.7 765.5 187 C764.1 187.3 761.6 186.2 761.5 185Z" fill="#ffff00"/>
<path d="M685.5 135.4 C685.4 133.6 685.9 130.2 687 128 C688.1 125.8 690.5 123.4 692 122 C693.5 120.6 694.7 120.3 696 119.8 C697.3 119.3 698.8 119.2 700 119.2 C701.2 119.2 702.5 119.3 703.5 119.8 C704.5 120.3 705.6 121.3 706.3 122.3 C707 123.3 707.6 124.7 707.8 126 C708 127.3 707.9 128.8 707.6 130 C707.3 131.2 706.5 132.4 706 133.5 C705.5 134.6 704.4 136.5 704.6 136.8 C704.9 137.1 706.4 136 707.5 135.5 C708.6 135 710.3 133.4 711 133.6 C711.7 133.8 711.8 135.5 711.6 136.5 C711.4 137.5 710.9 138.6 709.8 139.6 C708.7 140.6 706.9 141.7 705 142.5 C703.1 143.3 700.6 144.4 698.7 144.6 C696.8 144.8 694.9 144 693.5 143.6 C692.1 143.2 691.6 142.8 690.6 142 C689.6 141.2 688.4 140.1 687.5 139 C686.6 137.9 685.6 137.2 685.5 135.4Z" fill="#fff"/>
<path d="M685.3 133 C685.4 133.6 685.4 135.4 685.8 136.5 C686.2 137.6 686.7 138.5 687.5 139.5 C688.3 140.5 689.6 141.6 690.6 142.3 C691.6 143 692.1 143.5 693.5 143.9 C694.9 144.3 696.8 145.1 698.7 144.9 C700.6 144.7 703.1 143.7 705 142.8 C706.9 142 708.8 140.9 709.9 139.8 C711 138.8 711.6 137.5 711.8 136.5 C712 135.5 711.4 134.1 711.3 133.6" fill="none" stroke="#b8b8b8" stroke-width="1.7" stroke-linejoin="round" stroke-opacity="1"/>
<path d="M686.2 135 C685.8 133.1 686.8 130.1 687.8 128 C688.8 125.9 690.5 123.9 692.5 122.5 C694.5 121.1 697.8 119.8 700 119.8 C702.2 119.8 704.6 121.1 705.8 122.5 C707 123.9 707.5 125.8 707.2 128 C706.9 130.2 705.9 134.3 704.2 136 C702.5 137.7 699.4 137.4 697 138 C694.6 138.6 691.8 140 690 139.5 C688.2 139 686.6 136.9 686.2 135Z" fill="#fff"/>
<path d="M685 121 C685 119.4 687 117.2 688.5 116 C690 114.8 691.9 114 694 113.5 C696.1 113 698.7 112.8 701 113 C703.3 113.2 706.2 113.8 708 114.5 C709.8 115.2 711.8 116.5 712 117.5 C712.2 118.5 710.4 119.7 709.5 120.5 C708.6 121.3 708.1 122.7 706.5 122.5 C704.9 122.3 702.2 119.8 700 119.5 C697.8 119.2 695.4 120 693.5 121 C691.6 122 689.9 125.5 688.5 125.5 C687.1 125.5 685 122.6 685 121Z" fill="#fff"/>
<path d="M677 128 C676.8 125.5 677.7 122.8 678.5 121 C679.3 119.2 680.4 117.8 682 117 C683.6 116.2 686.7 116.2 688 116.5 C689.3 116.8 690.2 117.8 690 119 C689.8 120.2 687.8 122.2 687 124 C686.2 125.8 685.5 128.2 685 130 C684.5 131.8 684.8 134 684 135 C683.2 136 681.2 137.2 680 136 C678.8 134.8 677.2 130.5 677 128Z" fill="#c8f4fa"/>
<path d="M677 101 C677.1 99.3 676.8 97.2 678 96 C679.2 94.8 681.7 94.2 684 94 C686.3 93.8 689.9 93.8 692 95 C694.1 96.2 695.8 98.9 696.5 101 C697.2 103.1 696.8 105.8 696 107.5 C695.2 109.2 693.7 110.7 692 111.5 C690.3 112.3 688 112.8 686 112.5 C684 112.2 681.4 111.1 680 110 C678.6 108.9 678 107.5 677.5 106 C677 104.5 676.9 102.7 677 101Z" fill="#12eaf5"/>
<path d="M681 97 C681.6 95.7 683.8 94.8 685 95 C686.2 95.2 687.3 96.5 688 98 C688.7 99.5 688.3 102.2 689 104 C689.7 105.8 692.2 107.3 692 108.5 C691.8 109.7 689.4 111.1 688 111 C686.6 110.9 684.6 109.3 683.5 108 C682.4 106.7 681.9 104.8 681.5 103 C681.1 101.2 680.4 98.3 681 97Z" fill="#0f5cf0"/>
<path d="M684.5 96 C685.3 95.4 688.3 94.8 690 95.5 C691.7 96.2 693.7 98.8 694.5 100.5 C695.3 102.2 695.4 104.4 695 106 C694.6 107.6 693.2 109.6 692 110.3 C690.8 111 688.9 111 688 110 C687.1 109 687 105.8 686.5 104 C686 102.2 685.3 100.3 685 99 C684.7 97.7 683.7 96.6 684.5 96Z" fill="#ffff00"/>
<path d="M686.5 97 C687 96.5 689.3 96.7 690.5 97.5 C691.7 98.3 692.9 100.5 693.5 102 C694.1 103.5 694.4 105.4 694 106.5 C693.6 107.6 691.9 109 691 108.7 C690.1 108.5 689.4 106.4 688.8 105 C688.2 103.6 688 101.8 687.6 100.5 C687.2 99.2 686 97.5 686.5 97Z" fill="#ff9600"/>
<ellipse cx="527" cy="174" rx="5" ry="2.6" fill="#62e2ef" transform="rotate(-30 527 174)"/>
<ellipse cx="536" cy="172.5" rx="5" ry="2.4" fill="#62e2ef" transform="rotate(-35 536 172.5)"/>
<ellipse cx="543.5" cy="175" rx="2.8" ry="4" fill="#62e2ef" transform="rotate(0 543.5 175)"/>
<ellipse cx="523" cy="181" rx="3.5" ry="5" fill="#62e2ef" transform="rotate(20 523 181)"/>
<ellipse cx="533" cy="180" rx="7" ry="5" fill="#62e2ef" transform="rotate(-35 533 180)"/>
<ellipse cx="541" cy="186" rx="3.5" ry="5" fill="#62e2ef" transform="rotate(0 541 186)"/>
<ellipse cx="522.5" cy="191" rx="3.5" ry="3.5" fill="#62e2ef" transform="rotate(0 522.5 191)"/>
<ellipse cx="531" cy="193" rx="5" ry="6" fill="#62e2ef" transform="rotate(0 531 193)"/>
<ellipse cx="546" cy="193" rx="2.4" ry="5" fill="#62e2ef" transform="rotate(0 546 193)"/>
<ellipse cx="538" cy="199" rx="4" ry="4" fill="#62e2ef" transform="rotate(0 538 199)"/>
<ellipse cx="544.5" cy="200" rx="2.5" ry="4" fill="#62e2ef" transform="rotate(0 544.5 200)"/>
<ellipse cx="531" cy="205" rx="3.5" ry="5" fill="#62e2ef" transform="rotate(0 531 205)"/>
<ellipse cx="540" cy="209" rx="3.8" ry="5.5" fill="#62e2ef" transform="rotate(20 540 209)"/>
<ellipse cx="527" cy="212" rx="2.8" ry="3.2" fill="#62e2ef" transform="rotate(0 527 212)"/>
<ellipse cx="534" cy="215" rx="3" ry="4.5" fill="#62e2ef" transform="rotate(0 534 215)"/>
<ellipse cx="545" cy="206" rx="2.5" ry="4" fill="#62e2ef" transform="rotate(0 545 206)"/>
<ellipse cx="537.5" cy="213" rx="2.5" ry="3" fill="#62e2ef" transform="rotate(0 537.5 213)"/>
<ellipse cx="513.5" cy="213" rx="2" ry="5" fill="#62e2ef" transform="rotate(10 513.5 213)"/>
<ellipse cx="518" cy="221" rx="3.2" ry="5" fill="#62e2ef" transform="rotate(0 518 221)"/>
<ellipse cx="515.5" cy="232" rx="2.8" ry="4.5" fill="#62e2ef" transform="rotate(0 515.5 232)"/>
<ellipse cx="521" cy="237" rx="1.8" ry="2.6" fill="#62e2ef" transform="rotate(0 521 237)"/>
<ellipse cx="523" cy="227" rx="1.7" ry="2.4" fill="#62e2ef" transform="rotate(0 523 227)"/>
<ellipse cx="510" cy="244" rx="1.5" ry="2" fill="#62e2ef" transform="rotate(0 510 244)"/>
<ellipse cx="519" cy="242" rx="1.5" ry="2" fill="#62e2ef" transform="rotate(0 519 242)"/>
<ellipse cx="512" cy="224" rx="1.3" ry="2" fill="#62e2ef" transform="rotate(0 512 224)"/>
<path d="M520 184 C520.6 182.9 522.5 182 524 181.5 C525.5 181 527.5 181.5 529 181 C530.5 180.5 531.7 179.3 533 178.5 C534.3 177.7 535.7 176.7 537 176 C538.3 175.3 539.9 174.5 541 174.5 C542.1 174.5 543.3 175.2 543.5 176 C543.7 176.8 542.9 178.5 542 179.5 C541.1 180.5 539.2 181.1 538 182 C536.8 182.9 535.8 183.8 535 185 C534.2 186.2 533.2 187.5 533 189 C532.8 190.5 533.5 192.3 534 194 C534.5 195.7 535.6 197.3 536 199 C536.4 200.7 536.6 202.4 536.5 204 C536.4 205.6 535.9 208.3 535.3 208.5 C534.7 208.7 533.6 206.4 533 205 C532.4 203.6 532.2 201.5 531.5 200 C530.8 198.5 529.9 197 529 196 C528.1 195 527 194.8 526 194 C525 193.2 523.9 192 523 191 C522.1 190 521 189.2 520.5 188 C520 186.8 519.4 185.1 520 184Z" fill="#ff9600"/>
<path d="M526 185 C526.7 184 528.7 183.8 530 183 C531.3 182.2 532.8 181.1 534 180.5 C535.2 179.9 536.7 178.9 537 179.3 C537.3 179.7 536.7 181.8 536 183 C535.3 184.2 533.8 185.3 533 186.5 C532.2 187.7 531.4 188.6 531.3 190 C531.2 191.4 532 193.3 532.5 195 C533 196.7 534 198.3 534.5 200 C535 201.7 535.6 203.9 535.6 205 C535.6 206.1 534.8 207.2 534.3 206.5 C533.8 205.8 533.1 202.8 532.5 201 C531.9 199.2 531.2 197.5 530.5 196 C529.8 194.5 528.8 193.2 528 192 C527.2 190.8 526.3 190.2 526 189 C525.7 187.8 525.3 186 526 185Z" fill="#f5300c"/>
<ellipse cx="541.5" cy="210" rx="1.5" ry="3.2" fill="#ff9600" transform="rotate(20 541.5 210)"/>
<ellipse cx="531" cy="212" rx="1.5" ry="2.6" fill="#ff9600" transform="rotate(0 531 212)"/>
<ellipse cx="543.3" cy="226.6" rx="2.2" ry="1.4" fill="#ff9600" transform="rotate(0 543.3 226.6)"/>
<ellipse cx="507" cy="230" rx="1.8" ry="2.3" fill="#ff9600" transform="rotate(0 507 230)"/>
<ellipse cx="545.8" cy="197" rx="1.2" ry="3" fill="#ff9600" transform="rotate(0 545.8 197)"/>
<ellipse cx="541.5" cy="190" rx="1.3" ry="3.2" fill="#ff9600" transform="rotate(-20 541.5 190)"/>
<ellipse cx="524.5" cy="194.5" rx="2" ry="2.2" fill="#ff9600" transform="rotate(0 524.5 194.5)"/>
<ellipse cx="539.5" cy="236" rx="1.2" ry="3" fill="#ff9600" transform="rotate(0 539.5 236)"/>
<ellipse cx="541.7" cy="210.5" rx="0.8" ry="2.2" fill="#f5300c" transform="rotate(20 541.7 210.5)"/>
<path d="M509 121.7 L558.9 126 L556.7 165.6 L504.7 161.3 L509 121.7" fill="none" stroke="#262626" stroke-width="0.8" stroke-linejoin="round" stroke-opacity="0.8"/>
<path d="M499 125.3 L503 125.6 L504.5 124.2 L506.5 124.6 L508.8 123.5" fill="none" stroke="#262626" stroke-width="0.8" stroke-linejoin="round" stroke-opacity="0.8"/>
<path d="M499 151.2 L505.8 151.2" fill="none" stroke="#262626" stroke-width="0.8" stroke-linejoin="round" stroke-opacity="0.8"/>
<path d="M560.6 108 L560.6 116.6 L558.9 126" fill="none" stroke="#262626" stroke-width="0.8" stroke-linejoin="round" stroke-opacity="0.8"/>
<path d="M560.6 116.6 L613.2 118.1" fill="none" stroke="#262626" stroke-width="0.8" stroke-linejoin="round" stroke-opacity="0.8"/>
<path d="M557.7 146.9 L598.8 149.1 L603 150.6 L608.9 150.5 L612.5 152.7" fill="none" stroke="#262626" stroke-width="0.8" stroke-linejoin="round" stroke-opacity="0.8"/>
<path d="M611.8 108 L613.5 116.6 L611.5 121.7 L613.5 125.3 L613.5 144" fill="none" stroke="#262626" stroke-width="0.8" stroke-linejoin="round" stroke-opacity="0.8"/>
<path d="M613.5 144 C613.3 144.7 612.5 146.6 612.3 148 C612.1 149.4 612.1 151.4 612.5 152.7 C612.9 154 614.1 154.2 614.7 155.8 C615.3 157.4 615.5 159.8 616 162 C616.5 164.2 616.8 166.4 617.5 168.7 C618.2 171 619.3 174.6 620 176 C620.7 177.4 620.9 176.4 621.6 177.4 C622.3 178.4 623.1 180.3 624 182 C624.9 183.7 626.2 186.6 626.7 187.5" fill="none" stroke="#262626" stroke-width="0.8" stroke-linejoin="round" stroke-opacity="0.8"/>
<path d="M613.5 143.8 L651.2 143.6" fill="none" stroke="#262626" stroke-width="0.8" stroke-linejoin="round" stroke-opacity="0.8"/>
<path d="M518.8 163.7 L571.4 167.6 L570 206.2 L515.2 201.9 L518.8 163.7" fill="none" stroke="#262626" stroke-width="0.8" stroke-linejoin="round" stroke-opacity="0.8"/>
<path d="M499 200.6 L515.2 201.9" fill="none" stroke="#262626" stroke-width="0.8" stroke-linejoin="round" stroke-opacity="0.8"/>
<path d="M571.4 176.7 L620 176.6" fill="none" stroke="#262626" stroke-width="0.8" stroke-linejoin="round" stroke-opacity="0.8"/>
<path d="M570 206.2 L626.7 207" fill="none" stroke="#262626" stroke-width="0.8" stroke-linejoin="round" stroke-opacity="0.8"/>
<path d="M626.7 187.5 L626.7 212 L627.4 226 L628.1 239.6" fill="none" stroke="#262626" stroke-width="0.8" stroke-linejoin="round" stroke-opacity="0.8"/>
<path d="M626.7 212 L663.4 212.2 L663.4 216 L666.5 216 L667.5 212" fill="none" stroke="#262626" stroke-width="0.8" stroke-linejoin="round" stroke-opacity="0.8"/>
<path d="M562 205.8 L562 211.3 L583.7 211.5 L584.4 230.3" fill="none" stroke="#262626" stroke-width="0.8" stroke-linejoin="round" stroke-opacity="0.8"/>
<path d="M584.4 230.3 C584.9 230.7 586.2 232 587.3 232.4 C588.4 232.8 589.6 232.6 591 233 C592.4 233.4 594.4 234.2 595.9 234.6 C597.4 235 598.6 235.7 600 235.5 C601.4 235.3 602.3 233.9 604 233.5 C605.7 233.1 608.8 232.6 610.3 233.2 C611.8 233.8 612 236.1 613 237 C614 237.9 614.8 238.4 616 238.5 C617.2 238.6 618.7 237.4 620 237.5 C621.3 237.6 622.6 238.7 624 239 C625.4 239.3 627.4 239.5 628.1 239.6" fill="none" stroke="#262626" stroke-width="0.8" stroke-linejoin="round" stroke-opacity="0.8"/>
<path d="M515.2 201.9 L509.4 256.2 L516.6 257 L516.6 253.3 L530.3 253.3 L558.4 254.1 L562 205.8" fill="none" stroke="#262626" stroke-width="0.8" stroke-linejoin="round" stroke-opacity="0.8"/>
<path d="M499 255.5 L509.4 256.2" fill="none" stroke="#262626" stroke-width="0.8" stroke-linejoin="round" stroke-opacity="0.8"/>
<path d="M530.3 253.3 L534 258 L538.3 263.4" fill="none" stroke="#262626" stroke-width="0.8" stroke-linejoin="round" stroke-opacity="0.8"/>
<path d="M628.1 239.6 L631 241.8 L631.7 246.1 L632.4 254.8 L635.3 263.4" fill="none" stroke="#262626" stroke-width="0.8" stroke-linejoin="round" stroke-opacity="0.8"/>
<path d="M631.7 246.1 L654.8 246.1" fill="none" stroke="#262626" stroke-width="0.8" stroke-linejoin="round" stroke-opacity="0.8"/>
<path d="M643.3 108 C642.9 109 641.7 111.6 641 114 C640.3 116.4 639 119.8 638.9 122.4 C638.8 125 638.9 127.2 640.4 129.6 C641.9 132 645.8 134.6 647.6 136.8 C649.4 139 650.4 140.7 651.2 142.6 C652 144.5 651.9 146.6 652.6 148.3 C653.3 150 654.4 151.2 655.5 152.7 C656.6 154.2 659.2 156 659.5 157.5 C659.8 159 658 160.2 657 161.5 C656 162.8 654.4 163.8 653.3 165.5 C652.2 167.2 650.8 169.9 650.5 172 C650.2 174.1 650.3 175.7 651.5 178 C652.7 180.3 656.2 183.4 657.7 186 C659.2 188.6 659.2 190.9 660.6 193.3 C662 195.7 664.9 198.3 666.3 200.5 C667.7 202.7 669.1 204.6 669.2 206.2 C669.3 207.8 667.5 209 667 210 C666.5 211 666.5 211.3 666.3 212 C666.1 212.7 666.3 212.1 665.6 214.4 C664.9 216.7 663.4 222.6 662 226 C660.6 229.4 658.2 231.7 657 234.6 C655.8 237.5 654.8 240.7 654.8 243.3 C654.8 246 657 248.3 657 250.5 C657 252.7 655.6 254 654.8 256.2 C653.9 258.3 652.4 262.2 651.9 263.4" fill="none" stroke="#262626" stroke-width="0.8" stroke-linejoin="round" stroke-opacity="0.8"/>
<path d="M655.5 152.7 L676.4 152.7" fill="none" stroke="#262626" stroke-width="0.8" stroke-linejoin="round" stroke-opacity="0.8"/>
<path d="M680 159.4 L680 193.3 L677.9 199 L675 203.3 L669.2 206.2" fill="none" stroke="#262626" stroke-width="0.8" stroke-linejoin="round" stroke-opacity="0.8"/>
<path d="M669.2 206.2 C669.8 205.7 671.5 204.2 673 203 C674.5 201.8 676.4 199.9 677.9 199 C679.4 198.1 680.6 197.8 682 197.5 C683.4 197.2 684.8 197.8 686.5 196.9 C688.2 196 690.5 192.9 692.3 191.8 C694 190.7 695.7 191.5 697 190.5 C698.3 189.5 698.9 186.5 700.2 186 C701.5 185.5 703.4 187.5 705 187.5 C706.6 187.5 708.3 186 710 186 C711.7 186 713.7 186.1 715.3 187.5 C716.9 188.9 718.1 193.2 719.7 194.7 C721.3 196.2 723.6 196.9 725 196.5 C726.4 196.1 726.7 193 728 192 C729.3 191 732.2 190.8 733 190.5" fill="none" stroke="#262626" stroke-width="0.8" stroke-linejoin="round" stroke-opacity="0.8"/>
<path d="M700.2 160.1 L700.2 186" fill="none" stroke="#262626" stroke-width="0.8" stroke-linejoin="round" stroke-opacity="0.8"/>
<path d="M680 159.4 L699.5 159.4 L712.5 158.3" fill="none" stroke="#262626" stroke-width="0.8" stroke-linejoin="round" stroke-opacity="0.8"/>
<path d="M667.5 208 L690 207.5 L710 206.8 L725 205.5" fill="none" stroke="#262626" stroke-width="0.8" stroke-linejoin="round" stroke-opacity="0.8"/>
<path d="M662 226 L678.6 226 L699.5 224.8 L716.8 223.1" fill="none" stroke="#262626" stroke-width="0.8" stroke-linejoin="round" stroke-opacity="0.8"/>
<path d="M678.6 226 L677.9 263.4" fill="none" stroke="#262626" stroke-width="0.8" stroke-linejoin="round" stroke-opacity="0.8"/>
<path d="M699.5 224.8 L703.8 249 L706 263.4" fill="none" stroke="#262626" stroke-width="0.8" stroke-linejoin="round" stroke-opacity="0.8"/>
<path d="M710 207.7 L723 206.5 L771.3 201.4" fill="none" stroke="#262626" stroke-width="0.8" stroke-linejoin="round" stroke-opacity="0.8"/>
<path d="M771.3 201.4 C771.9 202 774.2 203.8 775 205 C775.8 206.2 776.1 207.1 776.3 208.7 C776.5 210.3 777.2 212.7 776.3 214.4 C775.3 216.1 772.8 217.5 770.6 218.7 C768.4 219.9 765.2 219.9 763.3 221.6 C761.4 223.3 760.7 227.4 759 228.8 C757.3 230.2 754.2 230.1 753.3 230.3" fill="none" stroke="#262626" stroke-width="0.9" stroke-linejoin="round" stroke-opacity="0.8"/>
<path d="M753.3 230.3 L744.6 223.1 L736 222.3 L733.1 220.2 L720.1 220.9 L716.5 225.2" fill="none" stroke="#262626" stroke-width="0.8" stroke-linejoin="round" stroke-opacity="0.8"/>
<path d="M753.3 230.3 C752.8 231.2 752.1 233.6 750.4 236 C748.7 238.4 745.4 242.4 743.2 244.7 C741 247 738.9 247.5 737.4 249.7 C735.9 251.9 735.1 255.4 734.5 257.7 C733.9 260 733.9 262.4 733.8 263.4" fill="none" stroke="#262626" stroke-width="0.9" stroke-linejoin="round" stroke-opacity="0.8"/>
<path d="M716.5 225.2 C717.8 227 721.9 232.8 724.4 236 C726.9 239.2 729.4 242.4 731.6 244.7 C733.8 247 736.4 248.9 737.4 249.7" fill="none" stroke="#262626" stroke-width="0.8" stroke-linejoin="round" stroke-opacity="0.8"/>
<path d="M716.8 223.1 L710 222.3" fill="none" stroke="#262626" stroke-width="0.8" stroke-linejoin="round" stroke-opacity="0.8"/>
<path d="M708.1 223.1 C708.8 222.3 710.2 220.2 712 218.5 C713.8 216.8 716.9 214.4 718.7 213 C720.5 211.6 721.6 211.1 723 210 C724.4 208.9 726.6 206.9 727.3 206.3" fill="none" stroke="#262626" stroke-width="0.8" stroke-linejoin="round" stroke-opacity="0.8"/>
<path d="M766 212.5 C766.5 212.3 768 211.2 769 211.3 C770 211.4 771.9 212.3 772 212.8 C772.1 213.3 770.3 214 769.5 214.5 C768.7 215 766.8 215.6 767 216 C767.2 216.4 769.5 217.1 770.5 217 C771.5 216.9 772.6 215.8 773 215.5" fill="none" stroke="#262626" stroke-width="1.3" stroke-linejoin="round" stroke-opacity="0.85"/>
<path d="M771.5 203 C771.9 203.5 773.8 205 774 206 C774.2 207 772.8 208.2 773 209 C773.2 209.8 774.7 210.2 775 210.5" fill="none" stroke="#262626" stroke-width="1.1" stroke-linejoin="round" stroke-opacity="0.85"/>
<path d="M764.5 218.5 C765 218.6 767.2 218.8 767.5 219.3 C767.8 219.8 766.2 221.1 766 221.5" fill="none" stroke="#262626" stroke-width="1.1" stroke-linejoin="round" stroke-opacity="0.85"/>
<path d="M767.7 186 L771 184 L776.3 181.7" fill="none" stroke="#262626" stroke-width="0.9" stroke-linejoin="round" stroke-opacity="0.8"/>
<path d="M776.3 181.7 C775.8 182.4 774.2 184.6 773.5 186 C772.8 187.4 772 188.7 772 190.4 C772 192.1 773.3 194.6 773.4 196.1 C773.5 197.6 772.6 198.9 772.5 199.5" fill="none" stroke="#262626" stroke-width="1.0" stroke-linejoin="round" stroke-opacity="0.8"/>
<path d="M769 188 C768.8 188.8 767.8 191.3 768 193 C768.2 194.7 769.5 196.6 770 198 C770.5 199.4 771.1 200.8 771.3 201.4" fill="none" stroke="#262626" stroke-width="0.9" stroke-linejoin="round" stroke-opacity="0.8"/>
<path d="M643.3 110.1 C644.4 110 647.6 109.4 650 109.5 C652.4 109.6 655.2 110.2 657.7 110.9 C660.2 111.7 662.4 112.8 665 114 C667.6 115.2 671.4 116.6 673.5 118.1 C675.6 119.6 677.5 121.6 677.9 123.1 C678.3 124.6 676.5 125.7 676 127 C675.5 128.3 675.2 130.3 675 131" fill="none" stroke="#262626" stroke-width="0.8" stroke-linejoin="round" stroke-opacity="0.8"/>
<path d="M675 131 L677 126 L680.7 121" fill="none" stroke="#262626" stroke-width="0.9" stroke-linejoin="round" stroke-opacity="0.8"/>
<path d="M680.7 121 C680.3 122.5 679.1 126.8 678.5 130 C677.9 133.2 677.4 136.2 677 140 C676.6 143.8 676.1 149.6 676.4 152.7 C676.7 155.8 677.7 157.2 679 158.5 C680.3 159.8 682.5 160.8 684 160.5 C685.5 160.2 687.3 157.6 688 157" fill="none" stroke="#262626" stroke-width="0.8" stroke-linejoin="round" stroke-opacity="0.8"/>
<path d="M680.7 121 C681.6 120.4 684.1 118.2 686 117.5 C687.9 116.8 690.6 117.1 692.3 116.6 C694 116.1 694.6 114.7 696 114.5 C697.4 114.3 700.1 115.1 700.9 115.2" fill="none" stroke="#262626" stroke-width="0.8" stroke-linejoin="round" stroke-opacity="0.8"/>
<path d="M698 109.4 C699 110.1 701.6 113.1 703.8 113.7 C706 114.3 708.6 113.2 711 113.2 C713.4 113.2 716.4 113.7 718.2 113.7 C720 113.7 721 112.5 722 113 C723 113.5 722.8 115.5 724 117 C725.2 118.5 728.2 121.2 729 122" fill="none" stroke="#262626" stroke-width="1.3" stroke-linejoin="round" stroke-opacity="0.9"/>
<path d="M692.3 116.6 C691.8 117.3 690.2 119.4 689.5 121 C688.8 122.6 688.5 124.2 688 126 C687.5 127.8 687 130.2 686.8 132 C686.5 133.8 686.4 135.5 686.5 137 C686.6 138.5 687.2 139.7 687.5 141 C687.8 142.3 687.9 144.3 688 145" fill="none" stroke="#262626" stroke-width="0.8" stroke-linejoin="round" stroke-opacity="0.8"/>
<path d="M700.9 115.2 C701.8 115.5 704.6 116 706 117 C707.4 118 708.8 119.8 709.5 121.5 C710.2 123.2 710.8 125.2 710.5 127 C710.2 128.8 708.9 130.4 708 132 C707.1 133.6 705.4 136 705.4 136.8 C705.4 137.6 706.8 137.6 708 137 C709.2 136.4 711.3 133.4 712.5 133 C713.7 132.6 714.3 133.5 715 134.5 C715.7 135.5 716.4 137.2 716.5 139 C716.6 140.8 716 143 715.5 145 C715 147 714 148.8 713.5 151 C713 153.2 712.7 157.1 712.5 158.3" fill="none" stroke="#262626" stroke-width="0.8" stroke-linejoin="round" stroke-opacity="0.8"/>
<path d="M745 108.5 C746 108.9 749.2 110.2 751 111 C752.8 111.8 754 112.9 755.8 113.2 C757.6 113.5 759.8 113 762 112.8 C764.2 112.6 767.5 112.6 769.2 111.8 C770.9 111 771.5 108.6 772 108" fill="none" stroke="#262626" stroke-width="0.8" stroke-linejoin="round" stroke-opacity="0.6"/>
<path d="M729 109 C729.7 109.8 731.2 112.4 733 114 C734.8 115.6 737.5 117.6 740 118.5 C742.5 119.4 745.8 120 748 119.5 C750.2 119 752.4 116.2 753.3 115.5" fill="none" stroke="#262626" stroke-width="0.8" stroke-linejoin="round" stroke-opacity="0.6"/>
<path d="M799.5 95 C799.4 95.9 799.2 98.2 798.8 100.4 C798.3 102.7 797.9 106.5 796.8 108.5 C795.7 110.5 792.9 111.8 792.1 112.5" fill="none" stroke="#262626" stroke-width="0.8" stroke-linejoin="round" stroke-opacity="0.7"/>
<path d="M815 95 C815.5 96.1 816.4 99.7 817.7 101.7 C819 103.7 821.6 105.5 823 107.1 C824.4 108.6 825.5 110.3 826 111" fill="none" stroke="#262626" stroke-width="0.8" stroke-linejoin="round" stroke-opacity="0.7"/>
<path d="M778.6 112 L778.6 117.9 L780.7 128.6 L782 135.4 L782.3 150 L782.7 158" fill="none" stroke="#262626" stroke-width="0.8" stroke-linejoin="round" stroke-opacity="0.42"/>
<path d="M792.1 112.5 L790.8 116.5 L789 124 L788.1 131.3" fill="none" stroke="#262626" stroke-width="0.8" stroke-linejoin="round" stroke-opacity="0.42"/>
<path d="M796.8 112 L796.8 116.5 L798.8 126 L800.2 134" fill="none" stroke="#262626" stroke-width="0.8" stroke-linejoin="round" stroke-opacity="0.42"/>
<path d="M781 128.5 L800 126.5 L806 124" fill="none" stroke="#262626" stroke-width="0.8" stroke-linejoin="round" stroke-opacity="0.42"/>
<path d="M782 135.5 L797 134.5 L806 137.5" fill="none" stroke="#262626" stroke-width="0.8" stroke-linejoin="round" stroke-opacity="0.42"/>
<path d="M790 135 L790.5 141" fill="none" stroke="#262626" stroke-width="0.8" stroke-linejoin="round" stroke-opacity="0.42"/>
<path d="M811 118.3 L813.5 116.3 L816.3 115" fill="none" stroke="#262626" stroke-width="2.2" stroke-linejoin="round" stroke-opacity="0.85"/>
<path d="M804 124 L806 122.3 L808 121" fill="none" stroke="#262626" stroke-width="2.0" stroke-linejoin="round" stroke-opacity="0.85"/>
<path d="M788 151.5 L794 148.5 L800 146 L807 143" fill="none" stroke="#262626" stroke-width="1.6" stroke-linejoin="round" stroke-opacity="0.6"/>
<path d="M797.5 149.5 L802 147 L808 145.5" fill="none" stroke="#262626" stroke-width="1.2" stroke-linejoin="round" stroke-opacity="0.5"/>
<path d="M731.4 152.5 L733.5 174" fill="none" stroke="#262626" stroke-width="0.8" stroke-linejoin="round" stroke-opacity="0.42"/>
<path d="M731.4 152.5 C731.8 152.2 733.1 151.1 734 150.5 C734.9 149.9 735.5 150.7 736.8 149 C738 147.3 740.7 141.8 741.5 140.4" fill="none" stroke="#262626" stroke-width="0.8" stroke-linejoin="round" stroke-opacity="0.42"/>
<path d="M736.8 151.8 L769.8 149.1 L771.9 150.5 L773.9 155.2 L777.9 159.2 L776.6 163 L775 167.3" fill="none" stroke="#262626" stroke-width="0.8" stroke-linejoin="round" stroke-opacity="0.42"/>
<path d="M733.5 174 L764.4 170.7 L775 167.3" fill="none" stroke="#262626" stroke-width="0.8" stroke-linejoin="round" stroke-opacity="0.42"/>
<path d="M776 157 C777.2 157.6 782.5 158.7 783.3 160.6 C784.1 162.5 781.6 166.3 780.6 168.7 C779.6 171.1 777.9 173.4 777 175 C776.1 176.6 775.8 177.9 775.5 178.5" fill="none" stroke="#262626" stroke-width="0.8" stroke-linejoin="round" stroke-opacity="0.6"/>
<path d="M733.5 174 C732.9 175 731.3 178 730 180 C728.7 182 726.8 184 725.5 186 C724.2 188 723 190.6 722 192 C721 193.4 720.1 194.2 719.7 194.7" fill="none" stroke="#262626" stroke-width="0.8" stroke-linejoin="round" stroke-opacity="0.42"/>
<path d="M722 197.5 C723.3 197.2 727.3 197.2 730 196 C732.7 194.8 735.5 192.2 738 190 C740.5 187.8 743 185.2 745 183 C747 180.8 748.3 178.2 750 176.5 C751.7 174.8 753 172.6 755 172.5 C757 172.4 760.2 174.6 762 176 C763.8 177.4 764.7 179.3 766 181 C767.3 182.7 769.3 185.2 770 186" fill="none" stroke="#262626" stroke-width="0.8" stroke-linejoin="round" stroke-opacity="0.42"/>
<path d="M745 172 L745 176.5 L750 176.5" fill="none" stroke="#262626" stroke-width="0.8" stroke-linejoin="round" stroke-opacity="0.42"/>
<path d="M762 184 L764 178 L768 174.5 L767 180 L770 176 L772 171 L773 177 L775.5 172.5 L776 179 L773.5 184" fill="none" stroke="#262626" stroke-width="0.9" stroke-linejoin="round" stroke-opacity="0.7"/>
</g>
<rect x="499" y="95" width="334" height="189" fill="none" stroke="#111" stroke-width="1.6"/>
<rect x="499.8" y="95" width="176" height="14.4" fill="#bcd6e8"/>
<text x="520.4" y="107.3" font-size="12.4" font-weight="bold" fill="#14253d" textLength="135" lengthAdjust="spacingAndGlyphs">Fri Jan 23 - Mon Jan 26</text>
<rect x="488" y="74.5" width="356" height="20" fill="#000"/>
<text x="519.7" y="89.3" font-size="12.6" fill="#fff" stroke="#fff" stroke-width="0.45" textLength="144.7" lengthAdjust="spacingAndGlyphs">Chances for AT LEAST</text>
<text x="668.9" y="89.3" font-size="12.6" fill="#fff" stroke="#fff" stroke-width="0.45" textLength="64.6" lengthAdjust="spacingAndGlyphs">Six Inches</text>
<rect x="668.9" y="91" width="64.6" height="1" fill="#fff"/>
<text x="737.6" y="89.3" font-size="12.6" fill="#fff" stroke="#fff" stroke-width="0.45" textLength="74.4" lengthAdjust="spacingAndGlyphs">of Snowfall</text>
<rect x="499" y="263.4" width="334" height="21" fill="#fff"/>
<rect x="499" y="264.4" width="55.9" height="19.8" fill="#ffffff"/>
<rect x="526.8" y="264.4" width="27.8" height="19.8" fill="#aaaaaa"/>
<text x="526.8" y="278" font-size="9" font-weight="bold" fill="#1a1a1a" text-anchor="middle">&lt; 10 %</text>
<rect x="554.7" y="264.4" width="55.9" height="19.8" fill="#00f6ff"/>
<text x="582.5" y="278" font-size="9" font-weight="bold" fill="#0a2a3a" text-anchor="middle">10-30 %</text>
<rect x="610.3" y="264.4" width="55.9" height="19.8" fill="#0050ff"/>
<text x="638.2" y="278" font-size="9" font-weight="bold" fill="#08185a" text-anchor="middle">30-50 %</text>
<rect x="666" y="264.4" width="55.9" height="19.8" fill="#ffff00"/>
<text x="693.8" y="278" font-size="9" font-weight="bold" fill="#1a1a08" text-anchor="middle">50-70 %</text>
<rect x="721.7" y="264.4" width="55.9" height="19.8" fill="#ff9600"/>
<text x="749.5" y="278" font-size="9" font-weight="bold" fill="#3a1a04" text-anchor="middle">70-90 %</text>
<rect x="777.3" y="264.4" width="55.9" height="19.8" fill="#ff0000"/>
<text x="805.2" y="278" font-size="9" font-weight="bold" fill="#ffdcdc" text-anchor="middle">&gt; 90 %</text>
<rect x="499" y="263.3" width="334" height="1.6" fill="#111"/>
<g><defs><clipPath id="ci1"><circle cx="802.8" cy="231.5" r="25.3"/></clipPath></defs>
<circle cx="802.8" cy="231.5" r="25.3" fill="#1c9de3"/>
<path d="M792 240 L803 217.5 L814 222 L860 262 L830 295 L796 246 Z" fill="#1f7dcd" clip-path="url(#ci1)"/>
<g transform="rotate(0 802.8 231.2)"><path d="M802.8 231.2 V217.3 M802.8 223.6 l-4.9 -4.8 M802.8 223.6 l4.9 -4.8" stroke="#eaf5fd" stroke-width="2.3" stroke-linecap="round" fill="none"/></g><g transform="rotate(60 802.8 231.2)"><path d="M802.8 231.2 V217.3 M802.8 223.6 l-4.9 -4.8 M802.8 223.6 l4.9 -4.8" stroke="#eaf5fd" stroke-width="2.3" stroke-linecap="round" fill="none"/></g><g transform="rotate(120 802.8 231.2)"><path d="M802.8 231.2 V217.3 M802.8 223.6 l-4.9 -4.8 M802.8 223.6 l4.9 -4.8" stroke="#eaf5fd" stroke-width="2.3" stroke-linecap="round" fill="none"/></g><g transform="rotate(180 802.8 231.2)"><path d="M802.8 231.2 V217.3 M802.8 223.6 l-4.9 -4.8 M802.8 223.6 l4.9 -4.8" stroke="#eaf5fd" stroke-width="2.3" stroke-linecap="round" fill="none"/></g><g transform="rotate(240 802.8 231.2)"><path d="M802.8 231.2 V217.3 M802.8 223.6 l-4.9 -4.8 M802.8 223.6 l4.9 -4.8" stroke="#eaf5fd" stroke-width="2.3" stroke-linecap="round" fill="none"/></g><g transform="rotate(300 802.8 231.2)"><path d="M802.8 231.2 V217.3 M802.8 223.6 l-4.9 -4.8 M802.8 223.6 l4.9 -4.8" stroke="#eaf5fd" stroke-width="2.3" stroke-linecap="round" fill="none"/></g>
</g>
<rect x="499" y="307.5" width="334.5" height="172.5" fill="#fff"/>
<g clip-path="url(#c2)">
<path d="M508 446.8 C508 444.9 511.1 444.7 513.7 442.5 C516.3 440.3 520.7 436 523.8 433.8 C526.9 431.6 529.1 430.9 532.5 429.5 C535.9 428.1 539.7 426.4 544 425.2 C548.3 424 554.5 423.3 558.4 422.3 C562.2 421.3 564.2 420.8 567.1 419.4 C570 418 572.8 415.4 575.7 413.7 C578.6 412 581 410.8 584.4 409.3 C587.8 407.8 593.3 405.6 595.9 404.5 C598.5 403.4 597.3 403.7 600 402.5 C602.7 401.3 608.7 398.8 612 397.5 C615.3 396.2 617.2 395.4 620 394.5 C622.8 393.6 624.9 393.3 628.8 391.9 C632.7 390.5 639.4 388 643.3 386.1 C647.1 384.2 649 382.3 651.9 380.4 C654.8 378.5 657.2 376.5 660.6 374.6 C664 372.7 667.8 370.5 672.1 368.8 C676.4 367.1 681.7 366.4 686.5 364.5 C691.3 362.6 697 359.1 700.9 357.3 C704.8 355.6 706.1 355.2 710 354 C713.9 352.8 720.1 351.5 724.4 350.3 C728.7 349.1 732.6 348.6 736 347 C739.4 345.4 742 342.5 744.6 340.5 C747.2 338.5 749.7 336.1 751.8 334.8 C753.9 333.6 755.5 332.7 757 333 C758.5 333.3 759.7 334.8 760.5 336.5 C761.3 338.2 761.5 340.9 762 343 C762.5 345.1 762.3 348.4 763.3 349.2 C764.2 350 765.1 349 767.7 347.8 C770.4 346.6 775.4 344.2 779.2 342 C783 339.8 787.3 337 790.7 334.8 C794.1 332.6 796.9 330.9 799.4 329 C801.9 327.1 804.1 324.9 806 323.5 C807.9 322.1 809.9 320.1 810.9 320.4 C811.9 320.6 811.6 322.1 811.8 325 C811.9 327.9 811.7 332.8 811.8 337.7 C811.9 342.6 812.8 349.2 812.4 354.4 C812 359.6 811.2 364.2 809.5 368.8 C807.8 373.4 804.9 377.7 802.3 381.8 C799.6 385.9 797 389.9 793.6 393.3 C790.2 396.7 786.4 399.4 782.1 402 C777.8 404.6 772.5 407.3 767.7 409.2 C762.9 411.1 758.1 412.7 753.3 413.6 C748.5 414.5 743.2 414.4 738.8 414.5 C734.4 414.6 730.1 414.5 727 414 C723.9 413.5 722 412.1 720 411.5 C718 410.9 717 411.7 715.3 410.6 C713.6 409.5 711.3 406.6 709.6 404.9 C707.9 403.2 706.5 401.7 705 400.5 C703.5 399.3 702.2 398.2 700.9 397.7 C699.6 397.2 698.2 397.3 697 397.5 C695.8 397.7 694.9 398.2 693.7 399.1 C692.5 400 691.2 401.4 690 403 C688.8 404.6 687.6 406.8 686.5 408.5 C685.4 410.2 685.1 410.9 683.5 413 C681.9 415.1 679.1 418.8 676.8 421.3 C674.5 423.8 672 425.9 669.5 428 C667 430.1 664.8 432 662 434 C659.2 436 656.9 438 653 440 C649.1 442 641.7 444.1 638.5 446 C635.3 447.9 637.2 449.8 634 451.5 C630.8 453.2 623 455.6 619 456.3 C615 457.1 613.7 455.9 610.3 456 C606.9 456.1 602.1 456 598.8 456.9 C595.4 457.8 594.1 459.8 590.2 461.2 C586.4 462.6 580.5 464.3 575.7 465.6 C570.9 466.9 566.6 468.7 561.3 469.2 C556 469.7 549.8 469.2 544 468.4 C538.2 467.5 530.1 465.5 526.7 464.1 C523.3 462.7 526 461.5 523.8 459.8 C521.6 458.1 516.3 456.2 513.7 454 C511.1 451.8 508 448.7 508 446.8Z" fill="#12eaf5" stroke="#bfeff5" stroke-width="1"/>
<path d="M510.9 446.8 C512.3 445.6 517.1 444.2 520 443 C522.9 441.8 526.6 440.8 528.2 439.6 C529.8 438.4 529 437.2 529.5 436 C530 434.8 529.9 433.4 531 432.4 C532.1 431.4 534.1 430.6 536 430 C537.9 429.4 540.8 428.8 542.6 428.8 C544.4 428.9 545.6 429.8 547 430.3 C548.4 430.8 549.4 432 551.2 431.7 C553 431.4 555.8 429.6 558 428.5 C560.2 427.4 561.7 426.7 564.2 425.2 C566.7 423.7 569.5 421.4 572.9 419.4 C576.3 417.3 580.1 414.9 584.4 412.9 C588.7 410.9 594.5 409 598.8 407.2 C603.1 405.4 606.8 403.4 610.3 402 C613.8 400.6 616.9 399.5 620 398.5 C623.1 397.5 624.9 397.5 628.8 396.2 C632.7 394.9 639 392.6 643.3 390.5 C647.6 388.4 651.4 385.7 654.8 383.3 C658.1 380.9 660 378.2 663.4 376 C666.8 373.8 670.7 371.9 675 370.3 C679.3 368.8 684.6 368.1 689.4 366.7 C694.2 365.2 700 362.4 703.8 361.6 C707.6 360.8 708.6 362.5 712 362 C715.4 361.5 719.9 360.2 724.4 358.7 C728.9 357.2 735.5 354.6 738.8 353 C742.1 351.4 742.5 350.2 744 349 C745.5 347.8 746.2 347.2 747.5 345.8 C748.8 344.4 750.6 340.8 751.8 340.8 C753 340.8 753.8 344.2 754.5 346 C755.2 347.8 755.6 349.9 756.1 351.5 C756.6 353.1 756.6 355.4 757.6 355.9 C758.6 356.4 760.3 355 762 354.5 C763.7 354 765.8 353.7 767.7 353 C769.6 352.3 771.5 351.2 773.4 350.3 C775.3 349.4 777.3 348.6 779.2 347.5 C781.1 346.4 783.1 345.3 785 344 C786.9 342.7 788.9 341.2 790.7 339.8 C792.5 338.4 794.1 337.2 796 335.5 C797.9 333.8 800 331 802.3 329.7 C804.5 328.4 808.1 327.1 809.5 327.6 C810.9 328.2 810.3 330.1 810.5 333 C810.7 335.9 810.4 341.4 810.5 345 C810.6 348.6 811.3 350.4 810.9 354.4 C810.5 358.4 809.9 364.2 808 368.8 C806.1 373.4 802.3 378 799.4 381.8 C796.5 385.6 794.1 389 790.7 391.9 C787.3 394.8 783.5 396.8 779.2 399.1 C774.9 401.4 769.6 403.8 764.8 405.6 C760 407.4 755.2 409.1 750.4 409.9 C745.6 410.7 739.9 410.4 736 410.3 C732.1 410.2 729.4 410.1 727 409.6 C724.6 409.1 723 407.9 721.5 407.5 C720 407.1 719.4 408.3 718 407.5 C716.6 406.7 714.6 404 712.9 402.5 C711.1 401 709.1 399.7 707.5 398.5 C705.9 397.3 704.6 396.2 703 395.5 C701.4 394.8 699.7 394.1 698 394 C696.3 393.9 694.4 394.2 693 395 C691.6 395.8 690.7 397.5 689.5 399 C688.3 400.5 687 402.6 686 404 C685 405.4 684.7 405.3 683.6 407.2 C682.5 409.1 681.6 412.7 679.5 415.5 C677.4 418.3 674.1 421.3 670.7 423.8 C667.3 426.3 663.4 428.2 659 430.6 C654.6 433 649.4 435.4 644.5 438 C639.6 440.6 634.7 444 629.8 446 C624.9 448 618.2 449.6 615 450.2 C611.8 450.8 613.5 449.6 610.3 449.8 C607.1 450 600.7 450.4 595.9 451.1 C591.1 451.8 586.3 452.8 581.5 454 C576.7 455.2 571.9 458.1 567.1 458.3 C562.3 458.6 556.6 456.4 552.7 455.5 C548.9 454.6 546.9 452.6 544 452.6 C541.1 452.6 538.8 454.7 535.4 455.5 C532 456.3 527 457.9 523.8 457.6 C520.6 457.3 518 454.8 516 453.5 C514 452.2 512.4 451.1 511.5 450 C510.6 448.9 509.5 448 510.9 446.8Z" fill="#0f5cf0"/>
<path d="M536.5 457.5 C537 457.1 539 456.7 540 456.8 C541 456.9 542.5 457.8 542.5 458.3 C542.5 458.8 540.9 459.6 540 459.8 C539.1 460 537.6 459.7 537 459.3 C536.4 458.9 536 457.9 536.5 457.5Z" fill="#0f5cf0"/>
<path d="M516.6 446.8 C518.2 446.1 521.4 445.2 524 444.5 C526.6 443.8 531 443.4 532.5 442.5 C534 441.6 532.8 440.2 533 439 C533.2 437.8 533.2 436.3 533.9 435.3 C534.6 434.3 535.8 433.6 537 433 C538.2 432.4 539.7 431.6 541.1 431.7 C542.5 431.8 544 432.8 545.5 433.3 C547 433.8 548.1 434.8 549.8 434.6 C551.5 434.4 553.6 433.2 555.5 432.3 C557.4 431.4 558.4 431.2 561.3 429.5 C564.2 427.8 569 424.5 572.9 422.3 C576.8 420.1 579.6 418.1 584.4 416.5 C589.2 414.9 597.7 413.9 601.7 412.9 C605.8 411.9 605.4 411.9 608.7 410.6 C612 409.3 618.2 406.3 621.6 404.9 C625 403.5 625.2 403.2 628.8 402 C632.4 400.8 639.4 399.6 643.3 397.7 C647.1 395.8 649 392.7 651.9 390.5 C654.8 388.3 657.7 386.6 660.6 384.7 C663.5 382.8 666.3 380.8 669.2 378.9 C672.1 377 674.5 374.9 677.9 373.2 C681.3 371.5 685.6 369.8 689.4 368.8 C693.2 367.8 698 366.9 700.9 367.4 C703.8 367.9 704.9 370.8 706.7 371.7 C708.6 372.6 710.5 372.9 712 372.8 C713.5 372.7 714.4 371.9 716 371 C717.6 370.1 718.9 368.7 721.5 367.4 C724.1 366.1 728.2 364.7 731.6 363.1 C735 361.5 739.3 359.7 741.7 358 C744.1 356.3 744.7 354.7 746 353 C747.3 351.3 748.5 349.2 749.5 348 C750.5 346.8 751.1 345.2 751.8 345.5 C752.5 345.8 753 348.4 753.5 350 C754 351.6 754.5 353.5 755 355 C755.5 356.5 755.3 358.5 756.5 358.9 C757.7 359.3 760.1 358 762 357.5 C763.9 357 765.8 356.5 767.7 355.9 C769.6 355.3 771.5 354.5 773.4 353.8 C775.3 353.1 777.5 352.3 779.2 351.5 C780.9 350.7 782 349.8 783.5 348.8 C785 347.9 786.2 346.9 787.9 345.8 C789.6 344.7 791.7 343.6 793.6 342 C795.5 340.4 797.2 337.9 799.4 336.2 C801.6 334.5 805 331.8 806.6 331.9 C808.2 332 808.5 334.4 809 337 C809.5 339.6 809.4 344.9 809.5 347.8 C809.6 350.7 810 350.9 809.5 354.4 C809 357.9 808.8 364.2 806.6 368.8 C804.4 373.4 799.6 378.2 796.5 381.8 C793.4 385.4 791 388.1 787.9 390.5 C784.8 392.9 781.6 394.2 777.8 396.2 C773.9 398.2 769.4 400.9 764.8 402.7 C760.2 404.5 755.2 406.2 750.4 407 C745.6 407.8 740.2 407.6 736 407.3 C731.8 407.1 728 406.3 725 405.5 C722 404.7 720 403.5 718 402.5 C716 401.5 714.4 400.7 713 399.5 C711.6 398.3 710.6 397 709.6 395.5 C708.6 394 708 391.5 706.7 390.5 C705.4 389.5 703.5 389.3 702 389.3 C700.5 389.3 699.6 389.6 698 390.5 C696.4 391.4 694.2 393.1 692.3 394.8 C690.4 396.5 688.4 398.3 686.5 400.6 C684.6 402.9 682.5 406.1 680.7 408.5 C679 410.9 678.2 413 676 415.2 C673.8 417.4 670.7 419.8 667.3 421.9 C663.9 424 659.6 425.7 655.8 427.8 C652 429.9 648.7 432 644.3 434.3 C639.9 436.6 634.4 439.6 629.5 441.5 C624.6 443.4 618.5 444.9 614.8 445.8 C611.1 446.7 612.1 446.5 607.5 446.8 C602.9 447.1 592.6 447 587.3 447.5 C582 448 579.6 449.1 575.7 449.7 C571.9 450.3 568 451 564.2 451.1 C560.4 451.2 555.8 451.2 552.7 450.4 C549.6 449.6 547.7 446 545.5 446.1 C543.3 446.2 542.4 449.3 539.7 451.1 C537.1 452.9 533.5 456.9 529.6 456.9 C525.8 456.9 519.1 452.5 516.6 451.1 C514.1 449.7 514.5 449.2 514.5 448.5 C514.5 447.8 515 447.5 516.6 446.8Z" fill="#ffff00"/>
<path d="M516.6 448.5 C517.4 447.6 519.8 446.8 522 446.3 C524.2 445.8 527.3 445.8 530 445.6 C532.7 445.4 535.8 445.2 538 445.2 C540.2 445.2 542.8 445.1 543.3 445.8 C543.8 446.5 542.2 448.3 541 449.5 C539.8 450.7 537.9 451.9 536 453 C534.1 454.1 531.9 455.8 529.6 456 C527.3 456.2 524 455.2 522 454.5 C520 453.8 518.4 452.5 517.5 451.5 C516.6 450.5 515.9 449.4 516.6 448.5Z" fill="#ff9600"/>
<path d="M548 441 C548.7 440.6 551.2 439.8 553 439.3 C554.8 438.8 557.7 437.9 558.5 438 C559.3 438.1 558.9 439.3 558 439.8 C557.1 440.3 554.5 440.8 553 441.2 C551.5 441.6 549.8 442 549 442 C548.2 442 547.3 441.4 548 441Z" fill="#ff9600"/>
<path d="M564.9 432.4 C565.8 431.1 568.2 429.7 570 428.5 C571.8 427.3 573.9 426.3 575.7 425.2 C577.5 424.1 579.1 423 581 422 C582.9 421 584.8 419.7 587.3 419.4 C589.8 419.1 593.1 420.1 596 420.3 C598.9 420.6 601.9 420.7 604.6 420.9 C607.3 421.1 609.4 421.2 612 421.3 C614.6 421.4 617.2 422.2 620 421.6 C622.8 421.1 625.9 419.3 628.8 418 C631.7 416.7 635.5 415.2 637.5 413.7 C639.5 412.2 639.6 410.7 641 409 C642.4 407.3 644.6 405.4 646.1 403.4 C647.6 401.4 648.8 398.9 650 397 C651.2 395.1 651.3 393.5 653.3 391.9 C655.3 390.3 658.9 389.5 662 387.6 C665.1 385.7 669 382.3 672.1 380.4 C675.2 378.5 677.3 377.6 680.7 376 C684.1 374.4 689.9 371.2 692.3 371 C694.7 370.8 694.8 373.3 695.2 374.6 C695.6 375.9 694.8 377.6 694.5 379 C694.2 380.4 694.2 382 693.7 383.3 C693.2 384.6 692.2 385.8 691.5 387 C690.8 388.2 690.7 388.7 689.4 390.5 C688.1 392.3 685.5 395.3 683.6 397.7 C681.7 400.1 679.3 402.8 677.9 404.9 C676.5 406.9 676.2 408.5 675 410 C673.8 411.5 672.8 412.1 670.6 413.7 C668.4 415.3 665.6 417.5 662 419.4 C658.4 421.3 652.6 423.3 649 425.2 C645.4 427.1 643.8 429.3 640.4 431 C637 432.7 633.1 433.8 628.8 435.3 C624.5 436.9 617.9 439 614.4 440.3 C610.9 441.6 609.9 442.6 607.5 443.2 C605.1 443.8 603.4 443.9 600 443.9 C596.6 443.9 590.4 443.9 587.3 443.2 C584.2 442.5 583.7 440.2 581.5 439.6 C579.3 439 576.4 439.3 574 439.3 C571.6 439.3 568.7 440.2 567.1 439.6 C565.5 439.1 564.9 437.2 564.5 436 C564.1 434.8 564 433.6 564.9 432.4Z" fill="#ff9600"/>
<path d="M707 377 C707.5 375.9 708.8 374.8 710 374.5 C711.2 374.2 713.5 374.2 714.5 375 C715.5 375.8 715.9 377.5 715.8 379 C715.7 380.5 715 382.9 714 384 C713 385.1 710.7 386.3 709.5 385.8 C708.3 385.3 707.1 382.5 706.7 381 C706.3 379.5 706.5 378.1 707 377Z" fill="#ff9600"/>
<path d="M728.7 384.7 C730.4 382.8 731.3 381.7 733 380.5 C734.7 379.3 735.4 379.2 738.8 377.5 C742.2 375.8 748.5 372.5 753.3 370.3 C758.1 368.1 763.9 366.7 767.7 364.5 C771.5 362.3 772.9 359.7 776.3 357.3 C779.7 354.9 784.5 352.5 787.9 350.1 C791.3 347.7 794.1 344.7 796.5 342.9 C798.9 341.1 800.4 340 802.3 339.1 C804.2 338.2 806.9 336.7 808 337.7 C809.1 338.7 808.8 342.2 809 345 C809.2 347.8 810.1 351.6 809.5 354.4 C808.9 357.2 806.4 358.2 805.2 361.6 C804 365 804.2 370.8 802.3 374.6 C800.4 378.5 797 382.1 793.6 384.7 C790.2 387.3 785.9 388.6 782.1 390.5 C778.3 392.4 774.5 394.3 770.6 396.2 C766.8 398.1 763.1 400.6 759 402 C754.9 403.4 750.6 404.7 746 404.9 C741.4 405.1 735.4 404.1 731.6 403.4 C727.8 402.7 724.9 402 723 400.6 C721.1 399.2 720.1 396.2 720.1 394.8 C720.1 393.4 721.6 393.6 723 391.9 C724.4 390.2 727 386.6 728.7 384.7Z" fill="#ff9600"/>
<path d="M664 391.5 C665.4 391.1 669 391.9 669.5 393 C670 394.1 667.9 396.3 667 398 C666.1 399.7 665 401.3 664 403 C663 404.7 662.2 406.3 661 408 C659.8 409.7 658.5 411.3 657 413 C655.5 414.7 654 416.6 652 418 C650 419.4 646.4 421.2 645 421.5 C643.6 421.8 643.1 421.1 643.5 420 C643.9 418.9 646.4 416.8 647.6 415.1 C648.9 413.4 649.9 411.7 651 410 C652.1 408.3 653.3 406.7 654.5 405 C655.7 403.3 656.9 401.6 658 400 C659.1 398.4 660 396.9 661 395.5 C662 394.1 662.6 391.9 664 391.5Z" fill="#ff0a0a"/>
<path d="M724.4 393.3 C724.6 391.9 726 389.4 727 388 C728 386.6 728.7 385.5 730.2 384.7 C731.7 383.9 734.1 383.4 736 383 C737.9 382.6 739.9 382.5 741.7 382.5 C743.5 382.5 745.3 382.8 747 383.2 C748.7 383.6 750.8 383.6 751.8 384.7 C752.8 385.8 753.8 388.4 753.3 389.7 C752.8 391 750.5 391.6 749 392.5 C747.5 393.4 746.8 394.3 744.6 394.8 C742.4 395.3 738.1 395.1 736 395.5 C733.9 395.9 733.2 396.5 732 397 C730.8 397.5 729.8 398.5 728.7 398.4 C727.6 398.3 726.2 397.4 725.5 396.5 C724.8 395.6 724.1 394.7 724.4 393.3Z" fill="#ff0a0a"/>
<path d="M715.8 389.8 C715.5 388.4 716.1 385.6 717 383.5 C717.9 381.4 719.7 379.2 721.3 377.5 C722.9 375.8 724.5 374.6 726.5 373.5 C728.5 372.4 731.1 371.1 733 370.7 C734.9 370.3 737.5 370.2 738 371 C738.5 371.8 737.2 374.1 736 375.5 C734.8 376.9 732.2 378.1 730.5 379.5 C728.8 380.9 727.3 382.4 726 384 C724.7 385.6 723.7 387.7 722.5 389 C721.3 390.3 720.1 391.9 719 392 C717.9 392.1 716.1 391.2 715.8 389.8Z" fill="#0f5cf0"/>
<path d="M718 387.5 C717.8 386.8 719 384.3 720 382.8 C721 381.3 722.8 379.8 724.3 378.5 C725.8 377.2 727.5 376.1 729 375.3 C730.5 374.5 733.3 373.2 733.5 373.6 C733.7 374.1 731.4 376.6 730 378 C728.6 379.4 726.7 380.8 725.3 382.3 C723.9 383.9 722.7 386.4 721.5 387.3 C720.3 388.2 718.2 388.2 718 387.5Z" fill="#12eaf5"/>
<path d="M513.5 307.5 L512.3 340 L510.6 360.9" fill="none" stroke="#262626" stroke-width="0.8" stroke-linejoin="round" stroke-opacity="0.8"/>
<path d="M513 315.3 L589.4 318.2" fill="none" stroke="#262626" stroke-width="0.8" stroke-linejoin="round" stroke-opacity="0.8"/>
<path d="M585.1 307.5 L587 313 L589.4 318.2 L595.2 321.8 L593 325.4 L598.8 331.2" fill="none" stroke="#262626" stroke-width="0.8" stroke-linejoin="round" stroke-opacity="0.8"/>
<path d="M598.8 331.2 L598.5 363.1" fill="none" stroke="#262626" stroke-width="0.8" stroke-linejoin="round" stroke-opacity="0.8"/>
<path d="M499 360.2 L598.8 363.1" fill="none" stroke="#262626" stroke-width="0.8" stroke-linejoin="round" stroke-opacity="0.8"/>
<path d="M499 367.4 L534.6 369.6 L533.6 397.7" fill="none" stroke="#262626" stroke-width="0.8" stroke-linejoin="round" stroke-opacity="0.8"/>
<path d="M533.6 397.7 L536.8 400.6 L542.6 400.6 L545.5 403.4 L550 404.8 L555.6 405.6 L559.9 408.5 L563.5 408 L567.1 410.7 L572.9 408.5 L578.6 410.7 L583 409 L587.3 409.2 L593 410 L598.8 412.1 L601 412.2 L605.7 414.4" fill="none" stroke="#262626" stroke-width="0.8" stroke-linejoin="round" stroke-opacity="0.8"/>
<path d="M598.5 363.1 L599.5 371 L601.4 387.6 L601 412.2" fill="none" stroke="#262626" stroke-width="0.8" stroke-linejoin="round" stroke-opacity="0.8"/>
<path d="M598.5 370.3 L651.9 369.9 L651.9 376 L657 376" fill="none" stroke="#262626" stroke-width="0.8" stroke-linejoin="round" stroke-opacity="0.8"/>
<path d="M605.7 414.4 L606 433.8 L610.3 445.4 L612.5 454 L610.3 465.6 L607.9 469.2" fill="none" stroke="#262626" stroke-width="0.8" stroke-linejoin="round" stroke-opacity="0.8"/>
<path d="M605.8 421.6 L641.8 421.6" fill="none" stroke="#262626" stroke-width="0.8" stroke-linejoin="round" stroke-opacity="0.8"/>
<path d="M633.9 307.5 C633.9 309.2 632.6 314.4 633.9 317.5 C635.2 320.6 639.8 323.5 641.8 326.1 C643.8 328.7 644.6 331.6 646.1 333.3 C647.6 335 650 334.5 650.5 336.2 C651 337.9 648.8 341.8 649 343.4 C649.2 345 650.2 344.4 651.9 345.8 C653.6 347.2 657.6 349.4 659.1 351.5 C660.6 353.6 659.9 357 660.6 358.7 C661.3 360.4 663.2 360.2 663.4 361.6 C663.6 363.1 663 365.9 662 367.4 C661 368.8 658.5 368.9 657.7 370.3 C656.9 371.7 657.5 373.6 657 376 C656.5 378.4 655.9 381.8 654.8 384.7 C653.7 387.6 652.2 389.9 650.5 393.3 C648.8 396.7 646.4 401.5 644.7 404.9 C643 408.3 640.9 410.9 640.4 413.7 C639.9 416.5 641.2 418.7 641.8 421.6 C642.4 424.5 644.5 428 644 431 C643.5 434 640.2 436.5 638.9 439.6 C637.6 442.7 636.5 448 636 449.7" fill="none" stroke="#262626" stroke-width="0.8" stroke-linejoin="round" stroke-opacity="0.8"/>
<path d="M636 450.4 L659.8 450.4 L660.6 458.3 L663.4 462.7" fill="none" stroke="#262626" stroke-width="0.8" stroke-linejoin="round" stroke-opacity="0.8"/>
<path d="M679.6 307.5 L680 327.6 L681.5 334.8 L676.4 343.4 L675.7 348.5" fill="none" stroke="#262626" stroke-width="0.8" stroke-linejoin="round" stroke-opacity="0.8"/>
<path d="M663.4 361.6 C664.9 360.7 670 357.8 672.1 355.9 C674.2 354 675.1 351.3 675.7 350.1 C676.3 348.9 674.9 349.3 675.7 348.5 C676.5 347.7 679.4 345.6 680.7 345.3 C682 345.1 681.7 346.8 683.6 347 C685.5 347.2 690.2 347.1 692.3 346.3 C694.3 345.5 694.5 342.7 695.9 342 C697.3 341.3 699.1 343.4 700.9 342 C702.7 340.6 704.8 335.7 706.7 333.3 C708.6 330.9 711.1 328.7 712.5 327.6 C713.9 326.5 714.1 326.5 715.3 326.9 C716.5 327.2 718.1 328.8 719.7 329.7 C721.3 330.6 722.5 332.2 725 332.6 C727.5 333 732 331 734.5 331.9 C737 332.8 739.3 336.7 740.3 337.7" fill="none" stroke="#262626" stroke-width="0.8" stroke-linejoin="round" stroke-opacity="0.8"/>
<path d="M711.7 307.5 L711.7 327.6" fill="none" stroke="#262626" stroke-width="0.8" stroke-linejoin="round" stroke-opacity="0.8"/>
<path d="M662 367.4 L676.4 366 L700 365 L710 364.5 L753.3 360.9 L809.5 355.1 L819.6 354.4" fill="none" stroke="#262626" stroke-width="0.8" stroke-linejoin="round" stroke-opacity="0.8"/>
<path d="M654.8 390.5 L677.1 390.1 L708.1 388.3 L725 387.6" fill="none" stroke="#262626" stroke-width="0.8" stroke-linejoin="round" stroke-opacity="0.8"/>
<path d="M677.1 390.5 L676.4 405 L675 426.6 L677.1 458.3" fill="none" stroke="#262626" stroke-width="0.8" stroke-linejoin="round" stroke-opacity="0.8"/>
<path d="M708.1 388.3 L712.5 405 L717.2 426.6 L716.5 436.7 L720.8 449.7" fill="none" stroke="#262626" stroke-width="0.8" stroke-linejoin="round" stroke-opacity="0.8"/>
<path d="M686.5 448.3 L718.9 446.8" fill="none" stroke="#262626" stroke-width="0.8" stroke-linejoin="round" stroke-opacity="0.8"/>
<path d="M720.8 450.4 L754.7 451.1 L757.6 446.8 L761.2 446.1" fill="none" stroke="#262626" stroke-width="0.8" stroke-linejoin="round" stroke-opacity="0.8"/>
<path d="M740.3 337.7 C741.2 335.8 743.1 329.7 746 326.1 C748.9 322.5 755.2 319.1 757.6 316 C760 312.9 760 308.9 760.5 307.5" fill="none" stroke="#262626" stroke-width="0.8" stroke-linejoin="round" stroke-opacity="0.8"/>
<path d="M760.5 312.4 L810.9 310.3" fill="none" stroke="#262626" stroke-width="0.8" stroke-linejoin="round" stroke-opacity="0.8"/>
<path d="M740.3 337.7 C741 339.1 742.7 344.4 744.6 346.3 C746.5 348.2 749.1 348.5 751.8 349.2 C754.4 349.9 757.9 351.6 760.5 350.6 C763.1 349.6 765.6 346.8 767.7 343.4 C769.9 340 771 334.1 773.4 330.5 C775.8 326.9 779.7 324.2 782.1 321.8 C784.5 319.4 786 317.4 787.9 316 C789.8 314.6 791 312.2 793.6 313.2 C796.2 314.2 801.1 319.6 803.7 321.8 C806.4 324 807.8 323.9 809.5 326.1 C811.2 328.3 813.1 333.4 813.8 334.8" fill="none" stroke="#262626" stroke-width="0.8" stroke-linejoin="round" stroke-opacity="0.8"/>
<path d="M773.4 312.4 C773.5 313.3 773.1 317.3 774 318 C774.9 318.7 777.3 317.2 779 316.5 C780.7 315.8 782.5 314.9 784 314 C785.5 313.1 787.3 311.5 788 311" fill="none" stroke="#262626" stroke-width="0.8" stroke-linejoin="round" stroke-opacity="0.8"/>
<path d="M810.9 310.3 C811.4 312.4 813.3 318.6 813.8 323.2 C814.3 327.8 814.3 333.6 813.8 337.7 C813.3 341.8 811.3 344.9 810.9 347.8 C810.5 350.7 811.4 353.8 811.5 355" fill="none" stroke="#262626" stroke-width="1.0" stroke-linejoin="round" stroke-opacity="0.8"/>
<path d="M825.3 311 C825.3 313.8 826 323.2 825.3 327.6 C824.6 332.1 822.2 334.3 821 337.7 C819.8 341.1 818.3 345 818.1 347.8 C817.9 350.6 819.4 353.3 819.6 354.4" fill="none" stroke="#262626" stroke-width="0.9" stroke-linejoin="round" stroke-opacity="0.8"/>
<path d="M818 307.5 C818.7 308.1 820.5 310.2 822 311 C823.5 311.8 825.5 312.8 827 312.5 C828.5 312.2 830.3 309.6 831 309" fill="none" stroke="#262626" stroke-width="0.8" stroke-linejoin="round" stroke-opacity="0.8"/>
<path d="M819.6 354.4 C820.5 355.6 823.9 359.2 825.3 361.6 C826.7 364 828.2 366.4 828.2 368.8 C828.2 371.2 827.2 373.8 825.3 376 C823.4 378.2 819.6 380.6 816.7 381.8 C813.8 383 810.2 382.1 808 383.3 C805.8 384.5 804.9 386.9 803.7 389 C802.5 391.1 802.7 395 800.8 396.2 C798.9 397.4 793.6 396.2 792.2 396.2" fill="none" stroke="#262626" stroke-width="1.0" stroke-linejoin="round" stroke-opacity="0.8"/>
<path d="M792.2 396.2 L779.2 384.7 L764.8 384.7 L760.5 381.8 L743.2 382.5 L739.6 393.3" fill="none" stroke="#262626" stroke-width="0.8" stroke-linejoin="round" stroke-opacity="0.8"/>
<path d="M792.2 396.2 C791 398.1 787.2 404.7 785 407.8 C782.8 410.9 781.1 412.8 779.2 415 C777.3 417.2 775.3 419 773.4 420.9 C771.5 422.8 769.4 424 767.7 426.6 C766 429.2 764.4 433.4 763.3 436.7 C762.2 439.9 761 443 761.2 446.1 C761.5 449.2 763.2 452 764.8 455.5 C766.4 459 768.7 463.4 770.6 467 C772.5 470.6 775.1 474.9 776.3 477.1 C777.5 479.3 777.7 479.5 778 480" fill="none" stroke="#262626" stroke-width="1.0" stroke-linejoin="round" stroke-opacity="0.8"/>
<path d="M739.6 393.3 C740.9 395 745.2 400.7 747.5 403.4 C749.8 406.1 751.1 407.1 753.3 409.3 C755.5 411.5 758.1 413.6 760.5 416.5 C762.9 419.4 766.5 424.9 767.7 426.6" fill="none" stroke="#262626" stroke-width="0.8" stroke-linejoin="round" stroke-opacity="0.8"/>
<path d="M710 389 C711.5 388 715.6 384.9 718.7 383 C721.8 381.1 725.2 379.7 728.7 377.5 C732.2 375.3 736.4 372.4 740 370 C743.6 367.6 748.7 364.2 750.4 363.1" fill="none" stroke="#262626" stroke-width="0.8" stroke-linejoin="round" stroke-opacity="0.8"/>
<path d="M811 368 C811.6 367.8 813.3 366.5 814.5 366.5 C815.7 366.5 817.9 367.3 818 368 C818.1 368.7 816.1 369.8 815 370.5 C813.9 371.2 811.4 371.5 811.5 372 C811.6 372.5 814.2 373.5 815.5 373.5 C816.8 373.5 818.8 371.6 819 372 C819.2 372.4 817.6 375.1 816.5 376 C815.4 376.9 813.7 376.8 812.5 377.5 C811.3 378.2 810 380 809.5 380.5" fill="none" stroke="#262626" stroke-width="1.3" stroke-linejoin="round" stroke-opacity="0.85"/>
<path d="M813 357 C813.5 357.5 815.8 359 816 360 C816.2 361 814.2 362.2 814.5 363 C814.8 363.8 817.4 364.2 818 364.5" fill="none" stroke="#262626" stroke-width="1.1" stroke-linejoin="round" stroke-opacity="0.85"/>
<path d="M811 339 C811.2 339.7 812.5 341.7 812.5 343 C812.5 344.3 811 345.7 811 347 C811 348.3 812.2 350.3 812.5 351" fill="none" stroke="#262626" stroke-width="1.2" stroke-linejoin="round" stroke-opacity="0.8"/>
<path d="M499 465.2 C501 465.5 507.7 465.5 510.9 467 C514.1 468.5 516.3 472.3 518.1 474.2 C519.9 476.1 521.1 477.8 521.7 478.5" fill="none" stroke="#262626" stroke-width="0.8" stroke-linejoin="round" stroke-opacity="0.8"/>
<path d="M593 478.5 C593.5 478 594.9 476.9 595.9 475.6 C596.9 474.4 597.8 471.7 599 471 C600.2 470.3 601.6 471.6 603.1 471.3 C604.6 471 605.3 469.4 607.9 469.2 C610.5 469 615.2 469.4 618.7 469.9 C622.2 470.4 627.1 471.6 628.8 472" fill="none" stroke="#262626" stroke-width="1.0" stroke-linejoin="round" stroke-opacity="0.8"/>
<path d="M630 472 C630.7 471.6 632.5 469.5 634 469.5 C635.5 469.5 637.3 471 639 472 C640.7 473 642.3 475.3 644 475.5 C645.7 475.7 647.5 472.8 649 473 C650.5 473.2 651.5 477 653 477 C654.5 477 656.3 473.2 658 473 C659.7 472.8 661.3 475.2 663 476 C664.7 476.8 667.2 477.7 668 478" fill="none" stroke="#262626" stroke-width="1.8" stroke-linejoin="round" stroke-opacity="0.8"/>
<path d="M652 462 C652.5 461.7 653.8 460.5 655 460.3 C656.2 460.1 658.7 460.6 659 461 C659.3 461.4 658 462.6 657 463 C656 463.4 653.7 463.2 653 463.3" fill="none" stroke="#262626" stroke-width="1.0" stroke-linejoin="round" stroke-opacity="0.8"/>
<path d="M628.8 472 C629.5 471.5 631.5 469 633 469 C634.5 469 636.3 471 638 472 C639.7 473 641.3 474.8 643 475 C644.7 475.2 646.5 472.7 648 473 C649.5 473.3 650.5 477 652 477 C653.5 477 655.3 473.2 657 473 C658.7 472.8 660.2 475.2 662 476 C663.8 476.8 667.3 478.8 668 478 C668.7 477.2 666.8 473.6 666 471 C665.2 468.4 662.4 464.8 663.4 462.7 C664.4 460.6 669.5 458.9 672.1 458.3 C674.8 457.7 677.6 460.3 679.3 459.1 C681 457.9 681.5 451.5 682.2 451.1 C682.9 450.8 682.8 455.8 683.5 457 C684.2 458.2 684.8 458.6 686.5 458.3 C688.2 458.1 690.1 455.7 693.7 455.5 C697.3 455.3 704.5 455.7 708.1 456.9 C711.7 458.1 713.4 461.1 715.3 462.7 C717.2 464.3 718.1 466.2 719.7 466.3 C721.3 466.4 723 464.6 725 463.4 C727 462.2 728.8 458.7 731.6 459.1 C734.4 459.5 738.8 463.3 741.7 465.6 C744.6 467.9 747.2 470.7 748.9 472.8 C750.6 474.9 751.3 477.6 751.8 478.5" fill="none" stroke="#262626" stroke-width="1.1" stroke-linejoin="round" stroke-opacity="0.8"/>
</g>
<rect x="499" y="307.5" width="334" height="171.5" fill="none" stroke="#111" stroke-width="1.6"/>
<rect x="488" y="285" width="356" height="22.5" fill="#000"/>
<text x="501.5" y="301.6" font-size="12.6" fill="#fff" stroke="#fff" stroke-width="0.45" textLength="146.9" lengthAdjust="spacingAndGlyphs">Chances for AT LEAST a</text>
<text x="653.8" y="301.6" font-size="12.6" fill="#fff" stroke="#fff" stroke-width="0.45" textLength="76.3" lengthAdjust="spacingAndGlyphs">Quarter Inch</text>
<rect x="653.8" y="303.4" width="76.3" height="1" fill="#fff"/>
<text x="734.8" y="301.6" font-size="12.6" fill="#fff" stroke="#fff" stroke-width="0.45" textLength="97.2" lengthAdjust="spacingAndGlyphs">of Freezing Rain</text>
<g><defs><clipPath id="ci2"><circle cx="802.8" cy="447.9" r="25.3"/></clipPath></defs>
<circle cx="802.8" cy="447.9" r="25.3" fill="#ee3f78"/>
<path d="M797 458 L803 432 L811 441 L835 461 L835 495 L805 476 Z" fill="#dd356b" clip-path="url(#ci2)"/>
<path d="M803 431.6 C800.5 437.5 795 442.5 795 447.8 a8 8 0 0 0 16 0 C811 442.5 805.5 437.5 803 431.6Z" fill="#ee3f78" stroke="#f9cfdc" stroke-width="1"/>
<path d="M803 435.4 C801.2 439.8 797.6 443.3 797.6 447 a5.4 5.4 0 0 0 10.8 0 C808.4 443.3 804.8 439.8 803 435.4Z" fill="#fff"/>
<path d="M796.9 455 v5.2 M800.3 456 v9.6 M803.3 456.5 v4.6 M806 456 v6.4 M809 455 v5.4" stroke="#f9cfdc" stroke-width="1.5" stroke-linecap="round" fill="none"/>
</g>
</svg>
</body></html>
